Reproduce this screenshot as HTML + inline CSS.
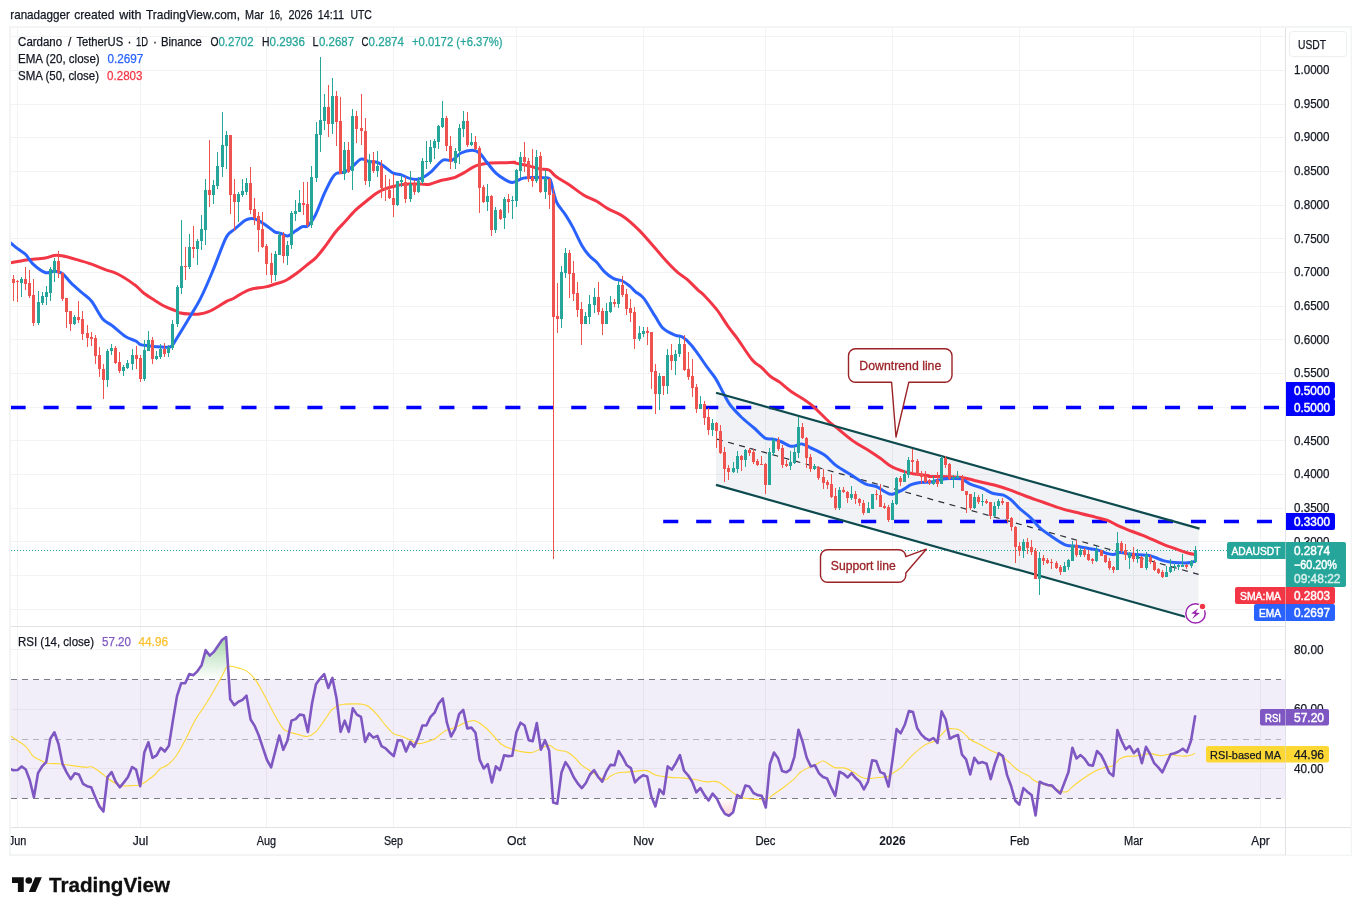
<!DOCTYPE html>
<html><head><meta charset="utf-8"><title>ADAUSDT chart</title>
<style>html,body{margin:0;padding:0;background:#fff;}body{width:1361px;height:915px;overflow:hidden;font-family:"Liberation Sans", sans-serif;}</style>
</head><body>
<svg width="1361" height="915" viewBox="0 0 1361 915" style="display:block;will-change:transform;font-family:'Liberation Sans',sans-serif">
<rect width="1361" height="915" fill="#ffffff"/>
<rect x="10" y="27" width="1341" height="828" fill="#ffffff" stroke="#f3f4f4" stroke-width="2"/>
<g stroke="#f2f3f3" stroke-width="1" shape-rendering="crispEdges">
<line x1="11" x2="1285" y1="36.5" y2="36.5"/>
<line x1="11" x2="1285" y1="70.5" y2="70.5"/>
<line x1="11" x2="1285" y1="104.5" y2="104.5"/>
<line x1="11" x2="1285" y1="137.5" y2="137.5"/>
<line x1="11" x2="1285" y1="171.5" y2="171.5"/>
<line x1="11" x2="1285" y1="205.5" y2="205.5"/>
<line x1="11" x2="1285" y1="238.5" y2="238.5"/>
<line x1="11" x2="1285" y1="272.5" y2="272.5"/>
<line x1="11" x2="1285" y1="306.5" y2="306.5"/>
<line x1="11" x2="1285" y1="339.5" y2="339.5"/>
<line x1="11" x2="1285" y1="373.5" y2="373.5"/>
<line x1="11" x2="1285" y1="407.5" y2="407.5"/>
<line x1="11" x2="1285" y1="440.5" y2="440.5"/>
<line x1="11" x2="1285" y1="474.5" y2="474.5"/>
<line x1="11" x2="1285" y1="508.5" y2="508.5"/>
<line x1="11" x2="1285" y1="541.5" y2="541.5"/>
<line x1="11" x2="1285" y1="575.5" y2="575.5"/>
<line x1="11" x2="1285" y1="609.5" y2="609.5"/>
<line x1="11" x2="1285" y1="649.5" y2="649.5"/>
<line x1="11" x2="1285" y1="709.5" y2="709.5"/>
<line x1="11" x2="1285" y1="768.5" y2="768.5"/>
<line x1="17.5" x2="17.5" y1="28" y2="827"/>
<line x1="140.5" x2="140.5" y1="28" y2="827"/>
<line x1="266.5" x2="266.5" y1="28" y2="827"/>
<line x1="393.5" x2="393.5" y1="28" y2="827"/>
<line x1="516.5" x2="516.5" y1="28" y2="827"/>
<line x1="643.5" x2="643.5" y1="28" y2="827"/>
<line x1="765.5" x2="765.5" y1="28" y2="827"/>
<line x1="892.5" x2="892.5" y1="28" y2="827"/>
<line x1="1019.5" x2="1019.5" y1="28" y2="827"/>
<line x1="1133.5" x2="1133.5" y1="28" y2="827"/>
<line x1="1260.5" x2="1260.5" y1="28" y2="827"/>
</g>
<defs><clipPath id="plot"><rect x="11" y="28" width="1274.5" height="799"/></clipPath></defs>
<g clip-path="url(#plot)">
<rect x="11" y="679.5" width="1274" height="119.0" fill="#7e57c2" fill-opacity="0.1"/>
<polygon points="716,392.7 1198.6,528.3 1198.6,620.5 716,484.9" fill="#697d9b" fill-opacity="0.1"/>
<line x1="10.54" x2="1285" y1="407.5" y2="407.5" stroke="#0000ff" stroke-width="3.4" stroke-dasharray="15.1 17.883" />
<line x1="663.2" x2="1285" y1="521.5" y2="521.5" stroke="#0000ff" stroke-width="3.4" stroke-dasharray="15.1 17.883"/>
<line x1="11" x2="1285" y1="550.5" y2="550.5" stroke="#26a69a" stroke-width="1" stroke-dasharray="1 2" shape-rendering="crispEdges"/>
<line x1="717" y1="439.1" x2="1198.6" y2="574.4" stroke="#2a2e39" stroke-width="1.2" stroke-dasharray="6 5.5"/>
<path d="M10.4 262.9 C13.1 262.4 20.8 260.7 26.6 259.9 C32.4 259.1 40.5 258.8 45.2 258.0 C49.8 257.3 51.7 255.8 54.4 255.4 C57.2 255.0 58.5 255.2 61.9 255.8 C65.3 256.4 69.9 257.7 74.9 259.1 C79.8 260.5 86.7 262.4 91.6 264.2 C96.6 265.9 100.3 267.7 104.6 269.4 C108.9 271.0 112.7 271.5 117.6 274.0 C122.6 276.5 130.0 281.4 134.3 284.6 C138.7 287.7 140.2 290.3 143.6 293.0 C147.0 295.6 151.1 298.1 154.8 300.4 C158.5 302.7 162.3 305.1 165.9 306.9 C169.6 308.7 174.5 310.2 176.7 311.2 C178.9 312.1 176.9 312.2 179.2 312.7 C181.4 313.2 186.8 313.9 190.2 314.1 C193.6 314.4 196.3 314.5 199.4 314.1 C202.5 313.7 205.5 313.0 208.6 311.7 C211.6 310.5 214.7 308.6 217.8 306.8 C220.8 305.0 224.3 302.5 226.9 301.1 C229.5 299.7 230.6 300.0 233.4 298.5 C236.1 297.1 240.3 294.1 243.5 292.5 C246.7 290.8 249.0 289.7 252.7 288.8 C256.3 287.9 261.8 287.7 265.5 286.9 C269.2 286.2 271.3 285.3 274.7 284.2 C278.1 283.1 282.0 282.4 285.7 280.5 C289.4 278.7 293.4 275.6 296.7 273.2 C300.1 270.7 302.7 268.4 305.9 265.8 C309.1 263.2 312.7 261.0 316.0 257.6 C319.4 254.1 322.9 249.3 326.1 245.1 C329.3 240.9 332.3 236.1 335.3 232.3 C338.4 228.4 341.1 225.8 344.5 222.2 C347.9 218.5 351.9 213.7 355.5 210.2 C359.2 206.7 363.2 203.8 366.5 201.0 C369.9 198.3 373.0 195.6 375.7 193.7 C378.5 191.8 380.6 190.7 383.1 189.6 C385.5 188.6 387.7 188.0 390.4 187.3 C393.2 186.5 396.5 185.4 399.6 184.9 C402.7 184.3 405.4 184.3 408.8 184.1 C412.2 184.0 416.5 184.1 420.0 184.1 C423.5 184.1 426.3 184.8 429.8 184.2 C433.3 183.6 436.9 181.6 440.8 180.5 C444.8 179.5 449.7 179.1 453.7 177.8 C457.7 176.4 461.0 174.2 464.7 172.3 C468.4 170.3 471.4 167.4 475.7 165.8 C480.0 164.3 485.5 163.6 490.4 163.1 C495.3 162.6 501.1 162.9 505.1 162.7 C509.1 162.6 512.5 162.1 514.3 162.2 C516.1 162.2 513.2 162.4 515.9 163.1 C518.6 163.8 526.6 165.4 530.6 166.4 C534.6 167.3 536.7 168.3 539.8 168.9 C542.9 169.6 546.2 168.7 549.0 170.0 C551.7 171.4 553.0 174.4 556.3 176.8 C559.7 179.3 564.6 181.7 569.2 184.7 C573.8 187.8 579.3 192.5 583.9 195.2 C588.5 198.0 592.8 199.0 596.7 201.3 C600.7 203.5 603.5 206.2 607.8 208.6 C612.1 211.1 617.3 212.4 622.5 216.0 C627.7 219.5 633.8 225.0 639.0 230.1 C644.2 235.2 649.1 241.4 653.7 246.6 C658.3 251.8 662.6 257.1 666.5 261.3 C670.5 265.6 674.2 269.4 677.6 272.4 C680.9 275.3 683.4 276.2 686.8 279.2 C690.1 282.1 694.8 287.0 697.8 289.8 C700.7 292.6 701.2 292.3 704.5 295.7 C707.8 299.2 713.4 305.2 717.4 310.4 C721.3 315.6 725.0 322.2 728.4 326.9 C731.8 331.7 733.6 333.4 737.6 338.9 C741.5 344.4 748.3 355.3 752.3 360.0 C756.2 364.8 758.4 364.6 761.4 367.4 C764.5 370.1 767.5 374.0 770.6 376.5 C773.7 379.0 776.5 379.9 780.0 382.4 C783.5 385.0 786.8 388.4 791.8 391.9 C796.9 395.5 804.1 399.0 810.2 403.9 C816.3 408.8 824.0 417.2 828.6 421.3 C833.2 425.5 833.8 425.5 837.8 428.7 C841.7 431.9 847.3 436.9 852.5 440.6 C857.7 444.3 864.4 447.8 869.0 450.7 C873.6 453.6 876.3 455.5 880.0 458.1 C883.7 460.7 887.4 464.2 891.0 466.3 C894.7 468.5 898.4 469.7 902.1 470.9 C905.7 472.2 908.8 472.9 913.1 473.7 C917.4 474.4 925.0 475.1 927.8 475.5 C930.6 476.0 926.6 476.2 930.0 476.4 C933.4 476.6 942.9 476.5 948.4 476.7 C953.9 477.0 958.2 476.9 963.1 477.7 C968.0 478.4 972.6 480.1 977.8 481.3 C983.0 482.6 989.1 483.6 994.3 485.0 C999.5 486.4 1003.8 487.8 1009.0 489.6 C1014.2 491.4 1019.7 493.9 1025.5 496.0 C1031.3 498.2 1037.8 500.3 1043.9 502.5 C1050.0 504.6 1056.1 507.0 1062.3 508.9 C1068.4 510.7 1075.1 512.1 1080.6 513.5 C1086.1 514.9 1090.8 516.0 1095.3 517.1 C1099.8 518.3 1103.6 518.9 1107.6 520.4 C1111.6 521.9 1115.0 524.4 1119.1 526.2 C1123.2 528.1 1127.8 529.7 1132.3 531.5 C1136.8 533.3 1142.3 535.1 1146.4 536.8 C1150.5 538.5 1153.9 540.2 1157.0 541.6 C1160.1 543.0 1162.2 544.0 1165.0 545.1 C1167.8 546.2 1170.9 547.2 1173.8 548.2 C1176.7 549.2 1180.0 550.4 1182.6 551.3 C1185.2 552.2 1187.5 553.0 1189.6 553.5 C1191.7 554.0 1194.1 554.4 1195.0 554.6" fill="none" stroke="#f23645" stroke-width="3" stroke-linejoin="round" stroke-linecap="butt"/>
<path d="M10.4 242.8 C11.6 243.7 14.8 246.4 17.3 248.4 C19.8 250.3 23.0 251.9 25.7 254.5 C28.3 257.1 29.8 261.1 33.1 264.2 C36.3 267.2 41.6 271.3 45.2 272.5 C48.7 273.7 51.6 271.1 54.4 271.2 C57.3 271.4 59.7 271.5 62.4 273.4 C65.2 275.4 67.9 279.9 71.2 283.1 C74.5 286.4 78.9 289.9 82.3 293.0 C85.7 296.0 88.2 297.0 91.6 301.3 C95.0 305.6 99.3 314.9 102.8 319.0 C106.2 323.0 108.3 322.6 112.0 325.5 C115.8 328.3 121.0 333.6 125.0 336.2 C129.1 338.9 133.6 339.9 136.2 341.3 C138.8 342.7 138.3 343.8 140.5 344.6 C142.6 345.4 146.5 345.5 149.2 345.9 C151.9 346.3 153.8 346.6 156.6 346.8 C159.4 347.0 163.4 347.3 165.9 347.2 C168.4 347.1 169.7 347.7 171.5 346.3 C173.3 344.8 173.6 343.5 176.7 338.5 C179.8 333.5 186.3 322.9 190.2 316.3 C194.1 309.7 196.6 306.2 200.3 298.9 C204.0 291.5 208.0 282.4 212.2 272.2 C216.5 262.1 222.4 244.9 226.0 237.8 C229.7 230.6 231.1 232.4 234.3 229.5 C237.5 226.6 242.4 222.2 245.3 220.3 C248.2 218.5 249.6 218.5 251.7 218.5 C253.9 218.5 255.9 219.2 258.2 220.3 C260.5 221.4 262.8 223.0 265.5 224.9 C268.3 226.8 272.3 230.5 274.7 231.9 C277.2 233.3 278.1 232.5 280.2 233.2 C282.4 233.8 285.1 236.2 287.6 235.9 C290.0 235.6 292.5 232.9 294.9 231.3 C297.4 229.8 300.1 227.7 302.3 226.7 C304.4 225.8 305.6 227.7 307.8 225.8 C309.9 224.0 312.4 221.1 315.1 215.7 C317.9 210.4 321.5 199.8 324.3 193.7 C327.1 187.6 329.7 182.4 331.6 179.0 C333.6 175.6 334.1 174.6 336.2 173.5 C338.4 172.3 341.9 173.3 344.5 172.2 C347.1 171.1 349.1 169.2 351.9 167.0 C354.6 164.9 358.1 160.1 361.0 159.1 C363.9 158.2 366.5 161.0 369.3 161.5 C372.1 162.1 375.0 161.5 377.6 162.5 C380.2 163.4 382.3 165.3 384.9 167.0 C387.5 168.8 390.4 171.8 393.2 173.1 C395.9 174.4 398.8 174.1 401.4 174.9 C404.0 175.8 406.3 177.3 408.8 178.1 C411.2 178.8 413.9 179.4 416.1 179.4 C418.4 179.3 419.9 179.1 422.5 177.8 C425.0 176.4 428.3 174.2 431.6 171.3 C435.0 168.4 439.3 162.2 442.7 160.3 C446.0 158.5 448.8 161.5 451.9 160.3 C454.9 159.1 457.7 154.7 461.0 153.0 C464.4 151.3 469.0 150.2 472.1 150.2 C475.1 150.2 477.0 151.0 479.4 153.0 C481.9 155.0 484.0 158.8 486.8 162.2 C489.5 165.5 492.9 170.3 495.9 173.2 C499.0 176.1 502.4 178.1 505.1 179.6 C507.9 181.1 509.4 182.6 512.5 182.4 C515.5 182.1 519.6 179.0 523.3 178.1 C526.9 177.3 530.9 177.5 534.3 177.4 C537.7 177.3 540.9 177.5 543.5 177.8 C546.1 178.1 548.2 176.8 549.9 179.2 C551.6 181.7 552.4 188.4 553.6 192.5 C554.8 196.5 555.3 199.7 557.3 203.5 C559.2 207.2 562.9 210.9 565.5 214.9 C568.1 218.8 570.1 222.2 572.9 227.4 C575.6 232.5 579.3 241.0 582.0 245.7 C584.8 250.5 586.9 253.1 589.4 255.8 C591.8 258.6 594.3 259.7 596.7 262.3 C599.2 264.9 601.3 268.7 604.1 271.4 C606.8 274.1 610.2 276.8 613.3 278.4 C616.3 280.0 619.7 279.7 622.5 281.0 C625.2 282.3 627.7 284.4 629.8 286.1 C632.0 287.9 633.0 289.7 635.3 291.6 C637.6 293.6 640.3 294.0 643.6 298.1 C646.9 302.1 651.6 310.9 654.9 315.9 C658.2 321.0 659.8 325.2 663.2 328.4 C666.5 331.6 671.9 333.8 675.1 335.2 C678.3 336.6 679.9 335.5 682.5 337.0 C685.1 338.6 688.0 341.3 690.7 344.4 C693.5 347.5 696.2 351.6 699.0 355.4 C701.7 359.2 704.5 363.5 707.3 367.4 C710.0 371.2 712.9 374.2 715.5 378.4 C718.1 382.5 720.4 387.7 722.9 392.2 C725.3 396.6 727.2 400.9 730.2 405.0 C733.3 409.1 737.3 413.1 741.2 417.0 C745.2 420.8 750.1 424.5 754.1 428.0 C758.1 431.5 761.9 436.2 765.1 438.1 C768.4 439.9 770.9 438.6 773.5 439.1 C776.1 439.7 778.1 440.4 780.8 441.5 C783.6 442.7 787.6 445.4 790.0 446.1 C792.5 446.8 793.5 446.1 795.5 445.8 C797.5 445.4 799.5 443.6 801.9 443.9 C804.4 444.2 806.4 445.7 810.2 447.6 C814.0 449.5 820.6 452.3 824.9 455.3 C829.2 458.3 831.6 462.2 835.9 465.4 C840.2 468.6 845.7 471.5 850.6 474.6 C855.5 477.7 861.0 481.8 865.3 483.8 C869.6 485.8 873.0 485.2 876.3 486.5 C879.7 487.9 882.9 490.8 885.5 492.0 C888.1 493.3 889.2 494.6 892.0 494.3 C894.7 493.9 898.8 491.8 902.1 490.2 C905.3 488.6 908.2 486.0 911.2 484.7 C914.3 483.4 917.1 483.0 920.4 482.5 C923.8 482.0 928.0 482.4 931.4 481.9 C934.9 481.4 937.9 480.1 941.0 479.5 C944.1 478.9 946.8 478.7 950.2 478.6 C953.6 478.5 957.9 478.0 961.2 478.9 C964.6 479.9 966.7 482.5 970.4 484.1 C974.1 485.7 979.6 487.1 983.3 488.7 C986.9 490.2 989.1 492.2 992.5 493.3 C995.8 494.3 1000.4 494.0 1003.5 495.1 C1006.5 496.2 1008.1 497.4 1010.8 499.7 C1013.6 502.0 1016.6 505.8 1020.0 508.9 C1023.4 511.9 1027.7 514.9 1031.0 518.1 C1034.4 521.3 1036.5 525.0 1040.2 528.2 C1043.9 531.4 1048.8 534.5 1053.1 537.4 C1057.4 540.2 1061.9 543.6 1065.9 545.1 C1069.9 546.5 1072.9 545.6 1077.0 546.2 C1081.0 546.8 1086.4 548.0 1090.0 548.7 C1093.6 549.4 1096.1 549.7 1098.8 550.4 C1101.5 551.1 1103.5 552.4 1105.9 553.1 C1108.3 553.8 1111.1 554.5 1113.4 554.4 C1115.8 554.3 1117.3 552.7 1120.0 552.6 C1122.7 552.5 1126.5 553.6 1129.7 554.0 C1132.9 554.4 1136.3 554.6 1139.4 554.8 C1142.5 555.0 1145.6 554.8 1148.2 555.3 C1150.8 555.8 1152.8 556.6 1155.3 557.5 C1157.8 558.4 1160.6 559.8 1163.2 560.6 C1165.8 561.4 1168.4 561.8 1171.1 562.2 C1173.8 562.6 1176.8 562.7 1179.1 562.8 C1181.4 562.9 1183.3 563.0 1185.2 563.0 C1187.1 563.0 1188.9 562.8 1190.5 562.5 C1192.1 562.2 1194.2 561.4 1195.0 561.2" fill="none" stroke="#2962ff" stroke-width="3" stroke-linejoin="round" stroke-linecap="butt"/>
<line x1="716" y1="392.7" x2="1199.5" y2="528.6" stroke="#0c4a4e" stroke-width="2.2"/>
<line x1="716" y1="484.9" x2="1185.3" y2="616.8" stroke="#0c4a4e" stroke-width="2.2"/>
<g shape-rendering="crispEdges">
<rect x="10" y="257" width="1" height="23" fill="#ef5350"/>
<rect x="13" y="275" width="1" height="26" fill="#ef5350"/>
<rect x="12" y="279" width="3" height="4" fill="#ef5350"/>
<rect x="17" y="280" width="1" height="22" fill="#ef5350"/>
<rect x="16" y="281" width="3" height="1" fill="#ef5350"/>
<rect x="21" y="277" width="1" height="20" fill="#26a69a"/>
<rect x="20" y="279" width="3" height="4" fill="#26a69a"/>
<rect x="25" y="267" width="1" height="23" fill="#ef5350"/>
<rect x="24" y="279" width="3" height="5" fill="#ef5350"/>
<rect x="29" y="270" width="1" height="28" fill="#ef5350"/>
<rect x="28" y="283" width="3" height="13" fill="#ef5350"/>
<rect x="33" y="279" width="1" height="47" fill="#ef5350"/>
<rect x="32" y="295" width="3" height="28" fill="#ef5350"/>
<rect x="38" y="291" width="1" height="34" fill="#26a69a"/>
<rect x="37" y="302" width="3" height="21" fill="#26a69a"/>
<rect x="42" y="292" width="1" height="13" fill="#26a69a"/>
<rect x="41" y="296" width="3" height="7" fill="#26a69a"/>
<rect x="46" y="286" width="1" height="19" fill="#26a69a"/>
<rect x="45" y="292" width="3" height="5" fill="#26a69a"/>
<rect x="50" y="267" width="1" height="34" fill="#26a69a"/>
<rect x="49" y="269" width="3" height="24" fill="#26a69a"/>
<rect x="54" y="258" width="1" height="24" fill="#26a69a"/>
<rect x="53" y="261" width="3" height="12" fill="#26a69a"/>
<rect x="58" y="251" width="1" height="27" fill="#ef5350"/>
<rect x="57" y="261" width="3" height="12" fill="#ef5350"/>
<rect x="62" y="272" width="1" height="29" fill="#ef5350"/>
<rect x="61" y="273" width="3" height="26" fill="#ef5350"/>
<rect x="66" y="298" width="1" height="30" fill="#ef5350"/>
<rect x="65" y="298" width="3" height="14" fill="#ef5350"/>
<rect x="70" y="311" width="1" height="20" fill="#ef5350"/>
<rect x="69" y="311" width="3" height="13" fill="#ef5350"/>
<rect x="74" y="315" width="1" height="10" fill="#26a69a"/>
<rect x="73" y="317" width="3" height="7" fill="#26a69a"/>
<rect x="78" y="301" width="1" height="22" fill="#ef5350"/>
<rect x="77" y="317" width="3" height="3" fill="#ef5350"/>
<rect x="82" y="311" width="1" height="29" fill="#ef5350"/>
<rect x="81" y="319" width="3" height="15" fill="#ef5350"/>
<rect x="87" y="325" width="1" height="22" fill="#ef5350"/>
<rect x="86" y="333" width="3" height="5" fill="#ef5350"/>
<rect x="91" y="332" width="1" height="14" fill="#ef5350"/>
<rect x="90" y="337" width="3" height="2" fill="#ef5350"/>
<rect x="95" y="335" width="1" height="29" fill="#ef5350"/>
<rect x="94" y="338" width="3" height="18" fill="#ef5350"/>
<rect x="99" y="347" width="1" height="30" fill="#ef5350"/>
<rect x="98" y="355" width="3" height="14" fill="#ef5350"/>
<rect x="103" y="364" width="1" height="35" fill="#ef5350"/>
<rect x="102" y="369" width="3" height="11" fill="#ef5350"/>
<rect x="107" y="349" width="1" height="38" fill="#26a69a"/>
<rect x="106" y="351" width="3" height="29" fill="#26a69a"/>
<rect x="111" y="344" width="1" height="11" fill="#26a69a"/>
<rect x="110" y="348" width="3" height="3" fill="#26a69a"/>
<rect x="115" y="346" width="1" height="18" fill="#ef5350"/>
<rect x="114" y="348" width="3" height="15" fill="#ef5350"/>
<rect x="119" y="352" width="1" height="21" fill="#ef5350"/>
<rect x="118" y="362" width="3" height="9" fill="#ef5350"/>
<rect x="123" y="365" width="1" height="11" fill="#26a69a"/>
<rect x="122" y="367" width="3" height="4" fill="#26a69a"/>
<rect x="127" y="360" width="1" height="9" fill="#26a69a"/>
<rect x="126" y="363" width="3" height="5" fill="#26a69a"/>
<rect x="132" y="349" width="1" height="21" fill="#26a69a"/>
<rect x="131" y="355" width="3" height="9" fill="#26a69a"/>
<rect x="136" y="346" width="1" height="23" fill="#ef5350"/>
<rect x="135" y="355" width="3" height="4" fill="#ef5350"/>
<rect x="140" y="355" width="1" height="27" fill="#ef5350"/>
<rect x="139" y="358" width="3" height="21" fill="#ef5350"/>
<rect x="144" y="340" width="1" height="41" fill="#26a69a"/>
<rect x="143" y="350" width="3" height="29" fill="#26a69a"/>
<rect x="148" y="331" width="1" height="20" fill="#26a69a"/>
<rect x="147" y="340" width="3" height="11" fill="#26a69a"/>
<rect x="152" y="337" width="1" height="27" fill="#ef5350"/>
<rect x="151" y="340" width="3" height="19" fill="#ef5350"/>
<rect x="156" y="351" width="1" height="9" fill="#26a69a"/>
<rect x="155" y="356" width="3" height="3" fill="#26a69a"/>
<rect x="160" y="344" width="1" height="15" fill="#26a69a"/>
<rect x="159" y="349" width="3" height="8" fill="#26a69a"/>
<rect x="164" y="343" width="1" height="14" fill="#ef5350"/>
<rect x="163" y="349" width="3" height="5" fill="#ef5350"/>
<rect x="168" y="345" width="1" height="12" fill="#26a69a"/>
<rect x="167" y="347" width="3" height="6" fill="#26a69a"/>
<rect x="172" y="320" width="1" height="30" fill="#26a69a"/>
<rect x="171" y="324" width="3" height="24" fill="#26a69a"/>
<rect x="177" y="285" width="1" height="42" fill="#26a69a"/>
<rect x="176" y="287" width="3" height="37" fill="#26a69a"/>
<rect x="181" y="220" width="1" height="74" fill="#26a69a"/>
<rect x="180" y="266" width="3" height="22" fill="#26a69a"/>
<rect x="185" y="247" width="1" height="33" fill="#ef5350"/>
<rect x="184" y="266" width="3" height="1" fill="#ef5350"/>
<rect x="189" y="234" width="1" height="35" fill="#26a69a"/>
<rect x="188" y="247" width="3" height="20" fill="#26a69a"/>
<rect x="193" y="226" width="1" height="32" fill="#ef5350"/>
<rect x="192" y="247" width="3" height="2" fill="#ef5350"/>
<rect x="197" y="239" width="1" height="26" fill="#26a69a"/>
<rect x="196" y="241" width="3" height="8" fill="#26a69a"/>
<rect x="201" y="215" width="1" height="35" fill="#26a69a"/>
<rect x="200" y="229" width="3" height="12" fill="#26a69a"/>
<rect x="205" y="179" width="1" height="66" fill="#26a69a"/>
<rect x="204" y="190" width="3" height="40" fill="#26a69a"/>
<rect x="209" y="140" width="1" height="67" fill="#ef5350"/>
<rect x="208" y="190" width="3" height="5" fill="#ef5350"/>
<rect x="213" y="180" width="1" height="24" fill="#26a69a"/>
<rect x="212" y="185" width="3" height="10" fill="#26a69a"/>
<rect x="217" y="152" width="1" height="37" fill="#26a69a"/>
<rect x="216" y="166" width="3" height="20" fill="#26a69a"/>
<rect x="222" y="112" width="1" height="65" fill="#26a69a"/>
<rect x="221" y="145" width="3" height="22" fill="#26a69a"/>
<rect x="226" y="131" width="1" height="38" fill="#26a69a"/>
<rect x="225" y="135" width="3" height="11" fill="#26a69a"/>
<rect x="230" y="135" width="1" height="79" fill="#ef5350"/>
<rect x="229" y="135" width="3" height="60" fill="#ef5350"/>
<rect x="234" y="179" width="1" height="52" fill="#ef5350"/>
<rect x="233" y="194" width="3" height="8" fill="#ef5350"/>
<rect x="238" y="192" width="1" height="30" fill="#26a69a"/>
<rect x="237" y="194" width="3" height="8" fill="#26a69a"/>
<rect x="242" y="179" width="1" height="18" fill="#26a69a"/>
<rect x="241" y="191" width="3" height="4" fill="#26a69a"/>
<rect x="246" y="178" width="1" height="17" fill="#26a69a"/>
<rect x="245" y="183" width="3" height="9" fill="#26a69a"/>
<rect x="250" y="167" width="1" height="47" fill="#ef5350"/>
<rect x="249" y="183" width="3" height="27" fill="#ef5350"/>
<rect x="254" y="198" width="1" height="27" fill="#ef5350"/>
<rect x="253" y="209" width="3" height="9" fill="#ef5350"/>
<rect x="258" y="212" width="1" height="40" fill="#ef5350"/>
<rect x="257" y="216" width="3" height="14" fill="#ef5350"/>
<rect x="262" y="212" width="1" height="36" fill="#ef5350"/>
<rect x="261" y="229" width="3" height="18" fill="#ef5350"/>
<rect x="266" y="244" width="1" height="31" fill="#ef5350"/>
<rect x="265" y="246" width="3" height="18" fill="#ef5350"/>
<rect x="271" y="253" width="1" height="30" fill="#ef5350"/>
<rect x="270" y="263" width="3" height="12" fill="#ef5350"/>
<rect x="275" y="251" width="1" height="30" fill="#26a69a"/>
<rect x="274" y="254" width="3" height="21" fill="#26a69a"/>
<rect x="279" y="232" width="1" height="23" fill="#26a69a"/>
<rect x="278" y="235" width="3" height="20" fill="#26a69a"/>
<rect x="283" y="232" width="1" height="31" fill="#ef5350"/>
<rect x="282" y="235" width="3" height="21" fill="#ef5350"/>
<rect x="287" y="241" width="1" height="24" fill="#26a69a"/>
<rect x="286" y="245" width="3" height="11" fill="#26a69a"/>
<rect x="291" y="211" width="1" height="38" fill="#26a69a"/>
<rect x="290" y="213" width="3" height="32" fill="#26a69a"/>
<rect x="295" y="200" width="1" height="21" fill="#26a69a"/>
<rect x="294" y="211" width="3" height="3" fill="#26a69a"/>
<rect x="299" y="190" width="1" height="22" fill="#26a69a"/>
<rect x="298" y="203" width="3" height="9" fill="#26a69a"/>
<rect x="303" y="182" width="1" height="33" fill="#ef5350"/>
<rect x="302" y="203" width="3" height="2" fill="#ef5350"/>
<rect x="307" y="182" width="1" height="45" fill="#ef5350"/>
<rect x="306" y="204" width="3" height="21" fill="#ef5350"/>
<rect x="311" y="166" width="1" height="62" fill="#26a69a"/>
<rect x="310" y="177" width="3" height="48" fill="#26a69a"/>
<rect x="316" y="122" width="1" height="60" fill="#26a69a"/>
<rect x="315" y="134" width="3" height="44" fill="#26a69a"/>
<rect x="320" y="57" width="1" height="95" fill="#26a69a"/>
<rect x="319" y="120" width="3" height="15" fill="#26a69a"/>
<rect x="324" y="94" width="1" height="36" fill="#26a69a"/>
<rect x="323" y="107" width="3" height="14" fill="#26a69a"/>
<rect x="328" y="85" width="1" height="52" fill="#ef5350"/>
<rect x="327" y="107" width="3" height="17" fill="#ef5350"/>
<rect x="332" y="78" width="1" height="56" fill="#26a69a"/>
<rect x="331" y="96" width="3" height="28" fill="#26a69a"/>
<rect x="336" y="91" width="1" height="55" fill="#ef5350"/>
<rect x="335" y="96" width="3" height="26" fill="#ef5350"/>
<rect x="340" y="97" width="1" height="77" fill="#ef5350"/>
<rect x="339" y="121" width="3" height="53" fill="#ef5350"/>
<rect x="344" y="142" width="1" height="38" fill="#26a69a"/>
<rect x="343" y="150" width="3" height="24" fill="#26a69a"/>
<rect x="348" y="142" width="1" height="31" fill="#ef5350"/>
<rect x="347" y="150" width="3" height="22" fill="#ef5350"/>
<rect x="352" y="109" width="1" height="81" fill="#26a69a"/>
<rect x="351" y="116" width="3" height="55" fill="#26a69a"/>
<rect x="356" y="111" width="1" height="32" fill="#ef5350"/>
<rect x="355" y="116" width="3" height="13" fill="#ef5350"/>
<rect x="361" y="94" width="1" height="51" fill="#ef5350"/>
<rect x="360" y="128" width="3" height="3" fill="#ef5350"/>
<rect x="365" y="118" width="1" height="67" fill="#ef5350"/>
<rect x="364" y="131" width="3" height="50" fill="#ef5350"/>
<rect x="369" y="154" width="1" height="33" fill="#26a69a"/>
<rect x="368" y="160" width="3" height="21" fill="#26a69a"/>
<rect x="373" y="152" width="1" height="21" fill="#ef5350"/>
<rect x="372" y="160" width="3" height="11" fill="#ef5350"/>
<rect x="377" y="151" width="1" height="26" fill="#26a69a"/>
<rect x="376" y="166" width="3" height="5" fill="#26a69a"/>
<rect x="381" y="160" width="1" height="38" fill="#ef5350"/>
<rect x="380" y="166" width="3" height="22" fill="#ef5350"/>
<rect x="385" y="175" width="1" height="26" fill="#ef5350"/>
<rect x="384" y="188" width="3" height="2" fill="#ef5350"/>
<rect x="389" y="179" width="1" height="20" fill="#ef5350"/>
<rect x="388" y="190" width="3" height="8" fill="#ef5350"/>
<rect x="393" y="174" width="1" height="43" fill="#ef5350"/>
<rect x="392" y="198" width="3" height="7" fill="#ef5350"/>
<rect x="397" y="181" width="1" height="25" fill="#26a69a"/>
<rect x="396" y="181" width="3" height="24" fill="#26a69a"/>
<rect x="401" y="175" width="1" height="12" fill="#26a69a"/>
<rect x="400" y="180" width="3" height="2" fill="#26a69a"/>
<rect x="405" y="177" width="1" height="26" fill="#ef5350"/>
<rect x="404" y="182" width="3" height="17" fill="#ef5350"/>
<rect x="410" y="171" width="1" height="31" fill="#26a69a"/>
<rect x="409" y="184" width="3" height="15" fill="#26a69a"/>
<rect x="414" y="180" width="1" height="15" fill="#ef5350"/>
<rect x="413" y="184" width="3" height="8" fill="#ef5350"/>
<rect x="418" y="177" width="1" height="16" fill="#26a69a"/>
<rect x="417" y="181" width="3" height="11" fill="#26a69a"/>
<rect x="422" y="158" width="1" height="26" fill="#26a69a"/>
<rect x="421" y="161" width="3" height="21" fill="#26a69a"/>
<rect x="426" y="141" width="1" height="28" fill="#26a69a"/>
<rect x="425" y="161" width="3" height="1" fill="#26a69a"/>
<rect x="430" y="140" width="1" height="24" fill="#26a69a"/>
<rect x="429" y="147" width="3" height="15" fill="#26a69a"/>
<rect x="434" y="139" width="1" height="20" fill="#26a69a"/>
<rect x="433" y="141" width="3" height="7" fill="#26a69a"/>
<rect x="438" y="125" width="1" height="24" fill="#26a69a"/>
<rect x="437" y="126" width="3" height="16" fill="#26a69a"/>
<rect x="442" y="101" width="1" height="27" fill="#26a69a"/>
<rect x="441" y="118" width="3" height="9" fill="#26a69a"/>
<rect x="446" y="116" width="1" height="35" fill="#ef5350"/>
<rect x="445" y="118" width="3" height="28" fill="#ef5350"/>
<rect x="450" y="136" width="1" height="33" fill="#ef5350"/>
<rect x="449" y="146" width="3" height="16" fill="#ef5350"/>
<rect x="455" y="148" width="1" height="21" fill="#26a69a"/>
<rect x="454" y="151" width="3" height="12" fill="#26a69a"/>
<rect x="459" y="124" width="1" height="40" fill="#26a69a"/>
<rect x="458" y="128" width="3" height="23" fill="#26a69a"/>
<rect x="463" y="111" width="1" height="26" fill="#26a69a"/>
<rect x="462" y="121" width="3" height="8" fill="#26a69a"/>
<rect x="467" y="112" width="1" height="35" fill="#ef5350"/>
<rect x="466" y="121" width="3" height="24" fill="#ef5350"/>
<rect x="471" y="133" width="1" height="13" fill="#26a69a"/>
<rect x="470" y="142" width="3" height="3" fill="#26a69a"/>
<rect x="475" y="136" width="1" height="14" fill="#ef5350"/>
<rect x="474" y="142" width="3" height="7" fill="#ef5350"/>
<rect x="479" y="146" width="1" height="67" fill="#ef5350"/>
<rect x="478" y="148" width="3" height="40" fill="#ef5350"/>
<rect x="483" y="185" width="1" height="18" fill="#ef5350"/>
<rect x="482" y="187" width="3" height="15" fill="#ef5350"/>
<rect x="487" y="184" width="1" height="27" fill="#26a69a"/>
<rect x="486" y="196" width="3" height="6" fill="#26a69a"/>
<rect x="491" y="195" width="1" height="41" fill="#ef5350"/>
<rect x="490" y="196" width="3" height="34" fill="#ef5350"/>
<rect x="495" y="207" width="1" height="26" fill="#26a69a"/>
<rect x="494" y="210" width="3" height="20" fill="#26a69a"/>
<rect x="500" y="209" width="1" height="11" fill="#ef5350"/>
<rect x="499" y="210" width="3" height="9" fill="#ef5350"/>
<rect x="504" y="197" width="1" height="32" fill="#26a69a"/>
<rect x="503" y="199" width="3" height="19" fill="#26a69a"/>
<rect x="508" y="194" width="1" height="19" fill="#ef5350"/>
<rect x="507" y="199" width="3" height="3" fill="#ef5350"/>
<rect x="512" y="196" width="1" height="23" fill="#26a69a"/>
<rect x="511" y="200" width="3" height="1" fill="#26a69a"/>
<rect x="516" y="169" width="1" height="38" fill="#26a69a"/>
<rect x="515" y="170" width="3" height="31" fill="#26a69a"/>
<rect x="520" y="152" width="1" height="26" fill="#26a69a"/>
<rect x="519" y="157" width="3" height="14" fill="#26a69a"/>
<rect x="524" y="142" width="1" height="30" fill="#ef5350"/>
<rect x="523" y="157" width="3" height="5" fill="#ef5350"/>
<rect x="528" y="158" width="1" height="24" fill="#ef5350"/>
<rect x="527" y="161" width="3" height="18" fill="#ef5350"/>
<rect x="532" y="149" width="1" height="38" fill="#ef5350"/>
<rect x="531" y="177" width="3" height="4" fill="#ef5350"/>
<rect x="536" y="150" width="1" height="33" fill="#26a69a"/>
<rect x="535" y="157" width="3" height="24" fill="#26a69a"/>
<rect x="540" y="152" width="1" height="41" fill="#ef5350"/>
<rect x="539" y="156" width="3" height="36" fill="#ef5350"/>
<rect x="545" y="170" width="1" height="29" fill="#26a69a"/>
<rect x="544" y="178" width="3" height="14" fill="#26a69a"/>
<rect x="549" y="178" width="1" height="31" fill="#ef5350"/>
<rect x="548" y="179" width="3" height="16" fill="#ef5350"/>
<rect x="553" y="188" width="1" height="371" fill="#ef5350"/>
<rect x="552" y="194" width="3" height="123" fill="#ef5350"/>
<rect x="557" y="283" width="1" height="50" fill="#ef5350"/>
<rect x="556" y="316" width="3" height="3" fill="#ef5350"/>
<rect x="561" y="266" width="1" height="62" fill="#26a69a"/>
<rect x="560" y="272" width="3" height="47" fill="#26a69a"/>
<rect x="565" y="248" width="1" height="30" fill="#26a69a"/>
<rect x="564" y="253" width="3" height="20" fill="#26a69a"/>
<rect x="569" y="250" width="1" height="48" fill="#ef5350"/>
<rect x="568" y="253" width="3" height="21" fill="#ef5350"/>
<rect x="573" y="261" width="1" height="40" fill="#ef5350"/>
<rect x="572" y="273" width="3" height="21" fill="#ef5350"/>
<rect x="577" y="282" width="1" height="35" fill="#ef5350"/>
<rect x="576" y="293" width="3" height="17" fill="#ef5350"/>
<rect x="581" y="302" width="1" height="43" fill="#ef5350"/>
<rect x="580" y="309" width="3" height="15" fill="#ef5350"/>
<rect x="585" y="312" width="1" height="12" fill="#26a69a"/>
<rect x="584" y="316" width="3" height="8" fill="#26a69a"/>
<rect x="589" y="295" width="1" height="29" fill="#26a69a"/>
<rect x="588" y="304" width="3" height="13" fill="#26a69a"/>
<rect x="594" y="288" width="1" height="25" fill="#26a69a"/>
<rect x="593" y="297" width="3" height="8" fill="#26a69a"/>
<rect x="598" y="282" width="1" height="33" fill="#ef5350"/>
<rect x="597" y="297" width="3" height="15" fill="#ef5350"/>
<rect x="602" y="308" width="1" height="27" fill="#ef5350"/>
<rect x="601" y="311" width="3" height="13" fill="#ef5350"/>
<rect x="606" y="303" width="1" height="21" fill="#26a69a"/>
<rect x="605" y="311" width="3" height="13" fill="#26a69a"/>
<rect x="610" y="296" width="1" height="17" fill="#26a69a"/>
<rect x="609" y="302" width="3" height="10" fill="#26a69a"/>
<rect x="614" y="299" width="1" height="8" fill="#ef5350"/>
<rect x="613" y="302" width="3" height="2" fill="#ef5350"/>
<rect x="618" y="281" width="1" height="27" fill="#26a69a"/>
<rect x="617" y="285" width="3" height="19" fill="#26a69a"/>
<rect x="622" y="276" width="1" height="21" fill="#ef5350"/>
<rect x="621" y="285" width="3" height="10" fill="#ef5350"/>
<rect x="626" y="289" width="1" height="26" fill="#ef5350"/>
<rect x="625" y="294" width="3" height="15" fill="#ef5350"/>
<rect x="630" y="299" width="1" height="23" fill="#ef5350"/>
<rect x="629" y="308" width="3" height="5" fill="#ef5350"/>
<rect x="634" y="307" width="1" height="42" fill="#ef5350"/>
<rect x="633" y="312" width="3" height="27" fill="#ef5350"/>
<rect x="639" y="326" width="1" height="15" fill="#26a69a"/>
<rect x="638" y="333" width="3" height="6" fill="#26a69a"/>
<rect x="643" y="327" width="1" height="10" fill="#26a69a"/>
<rect x="642" y="331" width="3" height="3" fill="#26a69a"/>
<rect x="647" y="327" width="1" height="18" fill="#ef5350"/>
<rect x="646" y="331" width="3" height="2" fill="#ef5350"/>
<rect x="651" y="332" width="1" height="57" fill="#ef5350"/>
<rect x="650" y="332" width="3" height="40" fill="#ef5350"/>
<rect x="655" y="364" width="1" height="50" fill="#ef5350"/>
<rect x="654" y="371" width="3" height="23" fill="#ef5350"/>
<rect x="659" y="373" width="1" height="37" fill="#26a69a"/>
<rect x="658" y="376" width="3" height="18" fill="#26a69a"/>
<rect x="663" y="376" width="1" height="19" fill="#ef5350"/>
<rect x="662" y="376" width="3" height="10" fill="#ef5350"/>
<rect x="667" y="349" width="1" height="45" fill="#26a69a"/>
<rect x="666" y="355" width="3" height="31" fill="#26a69a"/>
<rect x="671" y="344" width="1" height="26" fill="#ef5350"/>
<rect x="670" y="355" width="3" height="6" fill="#ef5350"/>
<rect x="675" y="350" width="1" height="25" fill="#26a69a"/>
<rect x="674" y="354" width="3" height="7" fill="#26a69a"/>
<rect x="679" y="337" width="1" height="20" fill="#26a69a"/>
<rect x="678" y="344" width="3" height="10" fill="#26a69a"/>
<rect x="684" y="335" width="1" height="36" fill="#ef5350"/>
<rect x="683" y="344" width="3" height="26" fill="#ef5350"/>
<rect x="688" y="352" width="1" height="28" fill="#ef5350"/>
<rect x="687" y="369" width="3" height="8" fill="#ef5350"/>
<rect x="692" y="359" width="1" height="38" fill="#ef5350"/>
<rect x="691" y="376" width="3" height="12" fill="#ef5350"/>
<rect x="696" y="384" width="1" height="29" fill="#ef5350"/>
<rect x="695" y="387" width="3" height="22" fill="#ef5350"/>
<rect x="700" y="396" width="1" height="13" fill="#26a69a"/>
<rect x="699" y="404" width="3" height="5" fill="#26a69a"/>
<rect x="704" y="401" width="1" height="24" fill="#ef5350"/>
<rect x="703" y="404" width="3" height="14" fill="#ef5350"/>
<rect x="708" y="408" width="1" height="27" fill="#ef5350"/>
<rect x="707" y="417" width="3" height="13" fill="#ef5350"/>
<rect x="712" y="419" width="1" height="17" fill="#26a69a"/>
<rect x="711" y="423" width="3" height="7" fill="#26a69a"/>
<rect x="716" y="422" width="1" height="26" fill="#ef5350"/>
<rect x="715" y="423" width="3" height="8" fill="#ef5350"/>
<rect x="720" y="425" width="1" height="29" fill="#ef5350"/>
<rect x="719" y="431" width="3" height="22" fill="#ef5350"/>
<rect x="724" y="447" width="1" height="35" fill="#ef5350"/>
<rect x="723" y="452" width="3" height="17" fill="#ef5350"/>
<rect x="728" y="465" width="1" height="15" fill="#ef5350"/>
<rect x="727" y="468" width="3" height="4" fill="#ef5350"/>
<rect x="733" y="462" width="1" height="11" fill="#26a69a"/>
<rect x="732" y="468" width="3" height="4" fill="#26a69a"/>
<rect x="737" y="451" width="1" height="22" fill="#26a69a"/>
<rect x="736" y="456" width="3" height="13" fill="#26a69a"/>
<rect x="741" y="455" width="1" height="16" fill="#ef5350"/>
<rect x="740" y="456" width="3" height="4" fill="#ef5350"/>
<rect x="745" y="449" width="1" height="18" fill="#26a69a"/>
<rect x="744" y="450" width="3" height="10" fill="#26a69a"/>
<rect x="749" y="448" width="1" height="8" fill="#ef5350"/>
<rect x="748" y="450" width="3" height="3" fill="#ef5350"/>
<rect x="753" y="449" width="1" height="15" fill="#ef5350"/>
<rect x="752" y="452" width="3" height="10" fill="#ef5350"/>
<rect x="757" y="459" width="1" height="7" fill="#ef5350"/>
<rect x="756" y="461" width="3" height="4" fill="#ef5350"/>
<rect x="761" y="456" width="1" height="9" fill="#ef5350"/>
<rect x="760" y="464" width="3" height="1" fill="#ef5350"/>
<rect x="765" y="463" width="1" height="31" fill="#ef5350"/>
<rect x="764" y="464" width="3" height="21" fill="#ef5350"/>
<rect x="769" y="448" width="1" height="37" fill="#26a69a"/>
<rect x="768" y="452" width="3" height="33" fill="#26a69a"/>
<rect x="773" y="438" width="1" height="18" fill="#26a69a"/>
<rect x="772" y="440" width="3" height="13" fill="#26a69a"/>
<rect x="778" y="437" width="1" height="14" fill="#ef5350"/>
<rect x="777" y="440" width="3" height="9" fill="#ef5350"/>
<rect x="782" y="445" width="1" height="23" fill="#ef5350"/>
<rect x="781" y="448" width="3" height="17" fill="#ef5350"/>
<rect x="786" y="460" width="1" height="7" fill="#ef5350"/>
<rect x="785" y="464" width="3" height="2" fill="#ef5350"/>
<rect x="790" y="451" width="1" height="19" fill="#26a69a"/>
<rect x="789" y="462" width="3" height="4" fill="#26a69a"/>
<rect x="794" y="446" width="1" height="18" fill="#26a69a"/>
<rect x="793" y="452" width="3" height="11" fill="#26a69a"/>
<rect x="798" y="417" width="1" height="41" fill="#26a69a"/>
<rect x="797" y="427" width="3" height="26" fill="#26a69a"/>
<rect x="802" y="423" width="1" height="16" fill="#ef5350"/>
<rect x="801" y="427" width="3" height="11" fill="#ef5350"/>
<rect x="806" y="437" width="1" height="31" fill="#ef5350"/>
<rect x="805" y="438" width="3" height="20" fill="#ef5350"/>
<rect x="810" y="454" width="1" height="18" fill="#ef5350"/>
<rect x="809" y="457" width="3" height="12" fill="#ef5350"/>
<rect x="814" y="464" width="1" height="6" fill="#26a69a"/>
<rect x="813" y="466" width="3" height="3" fill="#26a69a"/>
<rect x="818" y="466" width="1" height="14" fill="#ef5350"/>
<rect x="817" y="467" width="3" height="11" fill="#ef5350"/>
<rect x="823" y="469" width="1" height="20" fill="#ef5350"/>
<rect x="822" y="477" width="3" height="6" fill="#ef5350"/>
<rect x="827" y="480" width="1" height="9" fill="#ef5350"/>
<rect x="826" y="482" width="3" height="3" fill="#ef5350"/>
<rect x="831" y="474" width="1" height="24" fill="#ef5350"/>
<rect x="830" y="484" width="3" height="13" fill="#ef5350"/>
<rect x="835" y="488" width="1" height="22" fill="#ef5350"/>
<rect x="834" y="496" width="3" height="12" fill="#ef5350"/>
<rect x="839" y="487" width="1" height="23" fill="#26a69a"/>
<rect x="838" y="490" width="3" height="18" fill="#26a69a"/>
<rect x="843" y="487" width="1" height="6" fill="#ef5350"/>
<rect x="842" y="490" width="3" height="2" fill="#ef5350"/>
<rect x="847" y="491" width="1" height="12" fill="#ef5350"/>
<rect x="846" y="492" width="3" height="6" fill="#ef5350"/>
<rect x="851" y="486" width="1" height="14" fill="#26a69a"/>
<rect x="850" y="494" width="3" height="4" fill="#26a69a"/>
<rect x="855" y="491" width="1" height="13" fill="#ef5350"/>
<rect x="854" y="494" width="3" height="5" fill="#ef5350"/>
<rect x="859" y="498" width="1" height="8" fill="#ef5350"/>
<rect x="858" y="499" width="3" height="4" fill="#ef5350"/>
<rect x="863" y="500" width="1" height="15" fill="#ef5350"/>
<rect x="862" y="503" width="3" height="10" fill="#ef5350"/>
<rect x="868" y="502" width="1" height="11" fill="#26a69a"/>
<rect x="867" y="508" width="3" height="5" fill="#26a69a"/>
<rect x="872" y="494" width="1" height="15" fill="#26a69a"/>
<rect x="871" y="494" width="3" height="15" fill="#26a69a"/>
<rect x="876" y="490" width="1" height="10" fill="#ef5350"/>
<rect x="875" y="494" width="3" height="1" fill="#ef5350"/>
<rect x="880" y="484" width="1" height="23" fill="#ef5350"/>
<rect x="879" y="495" width="3" height="12" fill="#ef5350"/>
<rect x="884" y="503" width="1" height="6" fill="#ef5350"/>
<rect x="883" y="506" width="3" height="2" fill="#ef5350"/>
<rect x="888" y="505" width="1" height="17" fill="#ef5350"/>
<rect x="887" y="507" width="3" height="13" fill="#ef5350"/>
<rect x="892" y="500" width="1" height="20" fill="#26a69a"/>
<rect x="891" y="503" width="3" height="17" fill="#26a69a"/>
<rect x="896" y="477" width="1" height="28" fill="#26a69a"/>
<rect x="895" y="478" width="3" height="26" fill="#26a69a"/>
<rect x="900" y="476" width="1" height="10" fill="#ef5350"/>
<rect x="899" y="478" width="3" height="4" fill="#ef5350"/>
<rect x="904" y="470" width="1" height="12" fill="#26a69a"/>
<rect x="903" y="474" width="3" height="8" fill="#26a69a"/>
<rect x="908" y="457" width="1" height="21" fill="#26a69a"/>
<rect x="907" y="460" width="3" height="15" fill="#26a69a"/>
<rect x="912" y="449" width="1" height="24" fill="#ef5350"/>
<rect x="911" y="460" width="3" height="2" fill="#ef5350"/>
<rect x="917" y="459" width="1" height="17" fill="#ef5350"/>
<rect x="916" y="461" width="3" height="14" fill="#ef5350"/>
<rect x="921" y="471" width="1" height="13" fill="#ef5350"/>
<rect x="920" y="474" width="3" height="3" fill="#ef5350"/>
<rect x="925" y="471" width="1" height="12" fill="#ef5350"/>
<rect x="924" y="476" width="3" height="6" fill="#ef5350"/>
<rect x="929" y="479" width="1" height="6" fill="#ef5350"/>
<rect x="928" y="480" width="3" height="3" fill="#ef5350"/>
<rect x="933" y="476" width="1" height="9" fill="#26a69a"/>
<rect x="932" y="480" width="3" height="4" fill="#26a69a"/>
<rect x="937" y="472" width="1" height="15" fill="#ef5350"/>
<rect x="936" y="480" width="3" height="4" fill="#ef5350"/>
<rect x="941" y="456" width="1" height="28" fill="#26a69a"/>
<rect x="940" y="458" width="3" height="26" fill="#26a69a"/>
<rect x="945" y="456" width="1" height="12" fill="#ef5350"/>
<rect x="944" y="458" width="3" height="7" fill="#ef5350"/>
<rect x="949" y="463" width="1" height="17" fill="#ef5350"/>
<rect x="948" y="464" width="3" height="15" fill="#ef5350"/>
<rect x="953" y="475" width="1" height="13" fill="#26a69a"/>
<rect x="952" y="477" width="3" height="2" fill="#26a69a"/>
<rect x="957" y="471" width="1" height="8" fill="#26a69a"/>
<rect x="956" y="476" width="3" height="2" fill="#26a69a"/>
<rect x="962" y="475" width="1" height="16" fill="#ef5350"/>
<rect x="961" y="477" width="3" height="14" fill="#ef5350"/>
<rect x="966" y="491" width="1" height="22" fill="#ef5350"/>
<rect x="965" y="491" width="3" height="4" fill="#ef5350"/>
<rect x="970" y="494" width="1" height="16" fill="#ef5350"/>
<rect x="969" y="494" width="3" height="14" fill="#ef5350"/>
<rect x="974" y="492" width="1" height="17" fill="#26a69a"/>
<rect x="973" y="497" width="3" height="11" fill="#26a69a"/>
<rect x="978" y="495" width="1" height="9" fill="#ef5350"/>
<rect x="977" y="497" width="3" height="5" fill="#ef5350"/>
<rect x="982" y="494" width="1" height="12" fill="#26a69a"/>
<rect x="981" y="501" width="3" height="1" fill="#26a69a"/>
<rect x="986" y="499" width="1" height="5" fill="#ef5350"/>
<rect x="985" y="501" width="3" height="2" fill="#ef5350"/>
<rect x="990" y="502" width="1" height="17" fill="#ef5350"/>
<rect x="989" y="502" width="3" height="14" fill="#ef5350"/>
<rect x="994" y="502" width="1" height="15" fill="#26a69a"/>
<rect x="993" y="506" width="3" height="10" fill="#26a69a"/>
<rect x="998" y="499" width="1" height="10" fill="#26a69a"/>
<rect x="997" y="501" width="3" height="5" fill="#26a69a"/>
<rect x="1002" y="498" width="1" height="7" fill="#ef5350"/>
<rect x="1001" y="501" width="3" height="2" fill="#ef5350"/>
<rect x="1007" y="502" width="1" height="21" fill="#ef5350"/>
<rect x="1006" y="502" width="3" height="17" fill="#ef5350"/>
<rect x="1011" y="517" width="1" height="14" fill="#ef5350"/>
<rect x="1010" y="518" width="3" height="9" fill="#ef5350"/>
<rect x="1015" y="526" width="1" height="37" fill="#ef5350"/>
<rect x="1014" y="527" width="3" height="20" fill="#ef5350"/>
<rect x="1019" y="542" width="1" height="14" fill="#ef5350"/>
<rect x="1018" y="546" width="3" height="5" fill="#ef5350"/>
<rect x="1023" y="539" width="1" height="19" fill="#26a69a"/>
<rect x="1022" y="542" width="3" height="9" fill="#26a69a"/>
<rect x="1027" y="538" width="1" height="16" fill="#ef5350"/>
<rect x="1026" y="542" width="3" height="6" fill="#ef5350"/>
<rect x="1031" y="540" width="1" height="15" fill="#ef5350"/>
<rect x="1030" y="547" width="3" height="5" fill="#ef5350"/>
<rect x="1035" y="548" width="1" height="31" fill="#ef5350"/>
<rect x="1034" y="551" width="3" height="28" fill="#ef5350"/>
<rect x="1039" y="552" width="1" height="43" fill="#26a69a"/>
<rect x="1038" y="558" width="3" height="21" fill="#26a69a"/>
<rect x="1043" y="555" width="1" height="10" fill="#ef5350"/>
<rect x="1042" y="558" width="3" height="3" fill="#ef5350"/>
<rect x="1047" y="558" width="1" height="6" fill="#ef5350"/>
<rect x="1046" y="560" width="3" height="3" fill="#ef5350"/>
<rect x="1051" y="559" width="1" height="10" fill="#ef5350"/>
<rect x="1050" y="562" width="3" height="1" fill="#ef5350"/>
<rect x="1056" y="561" width="1" height="8" fill="#ef5350"/>
<rect x="1055" y="563" width="3" height="5" fill="#ef5350"/>
<rect x="1060" y="565" width="1" height="10" fill="#ef5350"/>
<rect x="1059" y="567" width="3" height="5" fill="#ef5350"/>
<rect x="1064" y="562" width="1" height="10" fill="#26a69a"/>
<rect x="1063" y="566" width="3" height="6" fill="#26a69a"/>
<rect x="1068" y="559" width="1" height="11" fill="#26a69a"/>
<rect x="1067" y="560" width="3" height="7" fill="#26a69a"/>
<rect x="1072" y="541" width="1" height="20" fill="#26a69a"/>
<rect x="1071" y="545" width="3" height="16" fill="#26a69a"/>
<rect x="1076" y="540" width="1" height="17" fill="#ef5350"/>
<rect x="1075" y="545" width="3" height="10" fill="#ef5350"/>
<rect x="1080" y="548" width="1" height="9" fill="#26a69a"/>
<rect x="1079" y="550" width="3" height="5" fill="#26a69a"/>
<rect x="1084" y="548" width="1" height="9" fill="#ef5350"/>
<rect x="1083" y="550" width="3" height="5" fill="#ef5350"/>
<rect x="1088" y="550" width="1" height="11" fill="#ef5350"/>
<rect x="1087" y="554" width="3" height="6" fill="#ef5350"/>
<rect x="1092" y="558" width="1" height="6" fill="#ef5350"/>
<rect x="1091" y="559" width="3" height="2" fill="#ef5350"/>
<rect x="1096" y="546" width="1" height="16" fill="#26a69a"/>
<rect x="1095" y="550" width="3" height="11" fill="#26a69a"/>
<rect x="1101" y="550" width="1" height="6" fill="#ef5350"/>
<rect x="1100" y="550" width="3" height="6" fill="#ef5350"/>
<rect x="1105" y="555" width="1" height="8" fill="#ef5350"/>
<rect x="1104" y="555" width="3" height="7" fill="#ef5350"/>
<rect x="1109" y="558" width="1" height="12" fill="#ef5350"/>
<rect x="1108" y="561" width="3" height="7" fill="#ef5350"/>
<rect x="1113" y="566" width="1" height="7" fill="#ef5350"/>
<rect x="1112" y="567" width="3" height="3" fill="#ef5350"/>
<rect x="1117" y="532" width="1" height="38" fill="#26a69a"/>
<rect x="1116" y="543" width="3" height="27" fill="#26a69a"/>
<rect x="1121" y="541" width="1" height="12" fill="#ef5350"/>
<rect x="1120" y="543" width="3" height="8" fill="#ef5350"/>
<rect x="1125" y="544" width="1" height="16" fill="#ef5350"/>
<rect x="1124" y="550" width="3" height="5" fill="#ef5350"/>
<rect x="1129" y="552" width="1" height="17" fill="#26a69a"/>
<rect x="1128" y="553" width="3" height="5" fill="#26a69a"/>
<rect x="1133" y="547" width="1" height="15" fill="#ef5350"/>
<rect x="1132" y="553" width="3" height="6" fill="#ef5350"/>
<rect x="1137" y="549" width="1" height="14" fill="#26a69a"/>
<rect x="1136" y="556" width="3" height="3" fill="#26a69a"/>
<rect x="1141" y="556" width="1" height="12" fill="#ef5350"/>
<rect x="1140" y="557" width="3" height="11" fill="#ef5350"/>
<rect x="1146" y="552" width="1" height="18" fill="#26a69a"/>
<rect x="1145" y="555" width="3" height="13" fill="#26a69a"/>
<rect x="1150" y="555" width="1" height="9" fill="#ef5350"/>
<rect x="1149" y="557" width="3" height="5" fill="#ef5350"/>
<rect x="1154" y="560" width="1" height="11" fill="#ef5350"/>
<rect x="1153" y="562" width="3" height="8" fill="#ef5350"/>
<rect x="1158" y="568" width="1" height="6" fill="#ef5350"/>
<rect x="1157" y="569" width="3" height="4" fill="#ef5350"/>
<rect x="1162" y="570" width="1" height="8" fill="#ef5350"/>
<rect x="1161" y="572" width="3" height="5" fill="#ef5350"/>
<rect x="1166" y="566" width="1" height="11" fill="#26a69a"/>
<rect x="1165" y="572" width="3" height="5" fill="#26a69a"/>
<rect x="1170" y="559" width="1" height="14" fill="#26a69a"/>
<rect x="1169" y="567" width="3" height="5" fill="#26a69a"/>
<rect x="1174" y="563" width="1" height="8" fill="#26a69a"/>
<rect x="1173" y="566" width="3" height="1" fill="#26a69a"/>
<rect x="1178" y="564" width="1" height="6" fill="#26a69a"/>
<rect x="1177" y="565" width="3" height="2" fill="#26a69a"/>
<rect x="1182" y="554" width="1" height="13" fill="#26a69a"/>
<rect x="1181" y="565" width="3" height="2" fill="#26a69a"/>
<rect x="1186" y="564" width="1" height="5" fill="#ef5350"/>
<rect x="1185" y="565" width="3" height="2" fill="#ef5350"/>
<rect x="1191" y="560" width="1" height="8" fill="#26a69a"/>
<rect x="1190" y="561" width="3" height="5" fill="#26a69a"/>
<rect x="1195" y="546" width="1" height="17" fill="#26a69a"/>
<rect x="1194" y="550" width="3" height="12" fill="#26a69a"/>
</g>
<path d="M855.5 348.8 H945 a7 7 0 0 1 7 7 V375.3 a7 7 0 0 1 -7 7 H908.8 L896 437 L891.6 382.3 H855.5 a7 7 0 0 1 -7 -7 V355.8 a7 7 0 0 1 7 -7 Z" fill="#ffffff" stroke="#9b2226" stroke-width="1.4" stroke-linejoin="round"/>
<text x="900.3" y="369.6" font-size="13" fill="#9b2226" stroke="#9b2226" stroke-width="0.3" text-anchor="middle" textLength="82" lengthAdjust="spacingAndGlyphs">Downtrend line</text>
<path d="M827.5 549.7 H898.8 a7 7 0 0 1 7 7 L926.3 549.2 L905.8 573 V575.3 a7 7 0 0 1 -7 7 H827.5 a7 7 0 0 1 -7 -7 V556.7 a7 7 0 0 1 7 -7 Z" fill="#ffffff" stroke="#9b2226" stroke-width="1.4" stroke-linejoin="round"/>
<text x="863.3" y="569.5" font-size="13" fill="#9b2226" stroke="#9b2226" stroke-width="0.3" text-anchor="middle" textLength="65" lengthAdjust="spacingAndGlyphs">Support line</text>
<circle cx="1195.5" cy="613.4" r="11" fill="#ffffff"/>
<circle cx="1195.5" cy="613.4" r="9.7" fill="none" stroke="#9c27b0" stroke-width="1.5"/>
<path d="M1198.2 608.2 L1191.2 613.6 L1195.3 614.1 L1192.1 619 L1199.9 612.9 L1195.8 612.4 Z" fill="#9c27b0"/>
<circle cx="1202.5" cy="606.5" r="4.2" fill="#ffffff"/>
<circle cx="1202.5" cy="606.5" r="2.7" fill="#f23645"/>
<line x1="11" x2="1285" y1="626.5" y2="626.5" stroke="#e1e2e6" stroke-width="1"/>
<line x1="11" x2="1281" y1="679.5" y2="679.5" stroke="#787b86" stroke-width="1" stroke-dasharray="5.6 5.4" shape-rendering="crispEdges"/>
<line x1="11" x2="1281" y1="739.5" y2="739.5" stroke="#b2b5be" stroke-width="1" stroke-dasharray="5.6 5.4" shape-rendering="crispEdges"/>
<line x1="11" x2="1281" y1="798.5" y2="798.5" stroke="#787b86" stroke-width="1" stroke-dasharray="5.6 5.4" shape-rendering="crispEdges"/>
<defs><linearGradient id="gg" x1="0" y1="0" x2="0" y2="1"><stop offset="0" stop-color="#4caf50" stop-opacity="0.45"/><stop offset="1" stop-color="#4caf50" stop-opacity="0"/></linearGradient><linearGradient id="rg" x1="0" y1="0" x2="0" y2="1"><stop offset="0" stop-color="#ff5252" stop-opacity="0"/><stop offset="1" stop-color="#ff5252" stop-opacity="0.25"/></linearGradient><clipPath id="c70"><rect x="0" y="600" width="1300" height="79.5"/></clipPath><clipPath id="c30"><rect x="0" y="798.5" width="1300" height="40"/></clipPath></defs>
<defs><linearGradient id="gg2" gradientUnits="userSpaceOnUse" x1="0" y1="637" x2="0" y2="679.5"><stop offset="0" stop-color="#4caf50" stop-opacity="0.5"/><stop offset="1" stop-color="#4caf50" stop-opacity="0"/></linearGradient><linearGradient id="rg2" gradientUnits="userSpaceOnUse" x1="0" y1="798.5" x2="0" y2="818"><stop offset="0" stop-color="#ff5252" stop-opacity="0"/><stop offset="1" stop-color="#ff5252" stop-opacity="0.3"/></linearGradient></defs>
<polygon points="9.4,679.5 9.4,768.9 13.5,770.2 17.6,770.0 21.7,766.4 25.8,769.6 29.8,780.2 33.9,797.3 38.0,773.2 42.1,766.4 46.2,762.1 50.3,738.7 54.4,732.3 58.5,744.0 62.6,764.2 66.6,772.3 70.7,779.2 74.8,773.2 78.9,774.5 83.0,783.8 87.1,786.2 91.2,787.3 95.3,797.3 99.4,806.4 103.4,811.5 107.5,777.0 111.6,772.1 115.7,781.7 119.8,787.3 123.9,782.4 128.0,777.0 132.1,767.0 136.1,769.6 140.2,786.2 144.3,752.5 148.4,742.3 152.5,757.8 156.6,755.3 160.7,747.8 164.8,751.5 168.9,745.7 172.9,720.6 177.0,696.1 181.1,683.3 185.2,683.3 189.3,674.1 193.4,675.2 197.5,671.1 201.6,665.2 205.7,650.2 209.7,655.6 213.8,651.9 217.9,646.0 222.0,640.0 226.1,637.0 230.2,699.3 234.3,705.2 238.4,701.8 242.5,699.9 246.5,695.6 250.6,719.5 254.7,725.9 258.8,735.5 262.9,747.8 267.0,760.0 271.1,767.4 275.2,751.5 279.3,735.5 283.3,749.8 287.4,740.8 291.5,720.6 295.6,719.1 299.7,714.6 303.8,715.2 307.9,731.9 312.0,703.5 316.0,684.3 320.1,678.6 324.2,674.1 328.3,688.0 332.4,677.9 336.5,698.2 340.6,731.9 344.7,720.6 348.8,731.9 352.8,708.4 356.9,714.6 361.0,716.9 365.1,741.9 369.2,733.3 373.3,737.6 377.4,735.9 381.5,746.1 385.6,748.3 389.6,752.5 393.7,756.1 397.8,740.4 401.9,740.4 406.0,751.5 410.1,741.9 414.2,746.8 418.3,737.6 422.4,725.5 426.4,725.5 430.5,716.9 434.6,712.7 438.7,703.5 442.8,698.6 446.9,722.7 451.0,736.5 455.1,729.1 459.1,714.2 463.2,709.9 467.3,728.4 471.4,727.6 475.5,732.7 479.6,759.6 483.7,768.5 487.8,764.2 491.9,782.4 495.9,766.4 500.0,770.2 504.1,755.3 508.2,756.1 512.3,755.7 516.4,732.3 520.5,722.7 524.6,725.5 528.7,740.2 532.7,741.2 536.8,723.1 540.9,749.8 545.0,740.2 549.1,750.4 553.2,802.6 557.3,803.7 561.4,772.8 565.5,762.1 569.5,768.1 573.6,777.0 577.7,783.4 581.8,788.1 585.9,783.0 590.0,774.5 594.1,770.2 598.2,777.0 602.2,781.7 606.3,771.7 610.4,764.9 614.5,765.3 618.6,751.0 622.7,757.4 626.8,765.3 630.9,768.1 635.0,782.4 639.0,778.1 643.1,775.3 647.2,776.4 651.3,796.2 655.4,806.4 659.5,789.4 663.6,794.1 667.7,766.4 671.8,769.6 675.8,763.2 679.9,755.1 684.0,770.6 688.1,775.3 692.2,781.7 696.3,792.4 700.4,788.1 704.5,795.1 708.6,800.5 712.6,793.6 716.7,798.3 720.8,807.3 724.9,813.9 729.0,815.8 733.1,812.2 737.2,795.1 741.3,797.3 745.4,785.5 749.4,786.6 753.5,793.0 757.6,795.1 761.7,795.8 765.8,807.5 769.9,764.2 774.0,752.5 778.1,758.3 782.1,771.1 786.2,772.3 790.3,769.6 794.4,756.8 798.5,729.7 802.6,741.9 806.7,757.8 810.8,766.4 814.9,765.3 818.9,773.2 823.0,777.0 827.1,778.5 831.2,787.7 835.3,795.8 839.4,771.7 843.5,773.8 847.6,777.5 851.7,773.2 855.7,778.1 859.8,781.7 863.9,789.4 868.0,781.7 872.1,760.4 876.2,761.0 880.3,772.1 884.4,773.8 888.5,786.6 892.5,760.0 896.6,729.1 900.7,733.3 904.8,724.8 908.9,711.0 913.0,712.0 917.1,728.0 921.2,734.4 925.2,738.2 929.3,740.4 933.4,738.0 937.5,742.9 941.6,711.4 945.7,719.5 949.8,738.7 953.9,736.5 958.0,735.0 962.0,754.7 966.1,759.3 970.2,774.5 974.3,757.8 978.4,763.2 982.5,762.1 986.6,763.8 990.7,779.2 994.8,764.2 998.8,753.2 1002.9,756.1 1007.0,774.9 1011.1,786.0 1015.2,800.5 1019.3,804.7 1023.4,788.1 1027.5,791.9 1031.6,795.1 1035.6,815.4 1039.7,781.7 1043.8,783.8 1047.9,785.1 1052.0,785.5 1056.1,789.8 1060.2,793.6 1064.3,783.0 1068.4,772.3 1072.4,747.8 1076.5,758.5 1080.6,755.1 1084.7,758.9 1088.8,764.9 1092.9,765.7 1097.0,751.0 1101.1,755.1 1105.1,763.2 1109.2,772.8 1113.3,776.0 1117.4,730.1 1121.5,740.8 1125.6,749.3 1129.7,746.1 1133.8,753.2 1137.9,748.9 1141.9,763.2 1146.0,746.8 1150.1,754.0 1154.2,763.2 1158.3,767.4 1162.4,772.3 1166.5,763.2 1170.6,754.2 1174.7,753.2 1178.7,751.5 1182.8,748.7 1186.9,752.1 1191.0,740.8 1195.1,716.3 1195.1,679.5" fill="url(#gg2)" clip-path="url(#c70)"/>
<polygon points="9.4,798.5 9.4,768.9 13.5,770.2 17.6,770.0 21.7,766.4 25.8,769.6 29.8,780.2 33.9,797.3 38.0,773.2 42.1,766.4 46.2,762.1 50.3,738.7 54.4,732.3 58.5,744.0 62.6,764.2 66.6,772.3 70.7,779.2 74.8,773.2 78.9,774.5 83.0,783.8 87.1,786.2 91.2,787.3 95.3,797.3 99.4,806.4 103.4,811.5 107.5,777.0 111.6,772.1 115.7,781.7 119.8,787.3 123.9,782.4 128.0,777.0 132.1,767.0 136.1,769.6 140.2,786.2 144.3,752.5 148.4,742.3 152.5,757.8 156.6,755.3 160.7,747.8 164.8,751.5 168.9,745.7 172.9,720.6 177.0,696.1 181.1,683.3 185.2,683.3 189.3,674.1 193.4,675.2 197.5,671.1 201.6,665.2 205.7,650.2 209.7,655.6 213.8,651.9 217.9,646.0 222.0,640.0 226.1,637.0 230.2,699.3 234.3,705.2 238.4,701.8 242.5,699.9 246.5,695.6 250.6,719.5 254.7,725.9 258.8,735.5 262.9,747.8 267.0,760.0 271.1,767.4 275.2,751.5 279.3,735.5 283.3,749.8 287.4,740.8 291.5,720.6 295.6,719.1 299.7,714.6 303.8,715.2 307.9,731.9 312.0,703.5 316.0,684.3 320.1,678.6 324.2,674.1 328.3,688.0 332.4,677.9 336.5,698.2 340.6,731.9 344.7,720.6 348.8,731.9 352.8,708.4 356.9,714.6 361.0,716.9 365.1,741.9 369.2,733.3 373.3,737.6 377.4,735.9 381.5,746.1 385.6,748.3 389.6,752.5 393.7,756.1 397.8,740.4 401.9,740.4 406.0,751.5 410.1,741.9 414.2,746.8 418.3,737.6 422.4,725.5 426.4,725.5 430.5,716.9 434.6,712.7 438.7,703.5 442.8,698.6 446.9,722.7 451.0,736.5 455.1,729.1 459.1,714.2 463.2,709.9 467.3,728.4 471.4,727.6 475.5,732.7 479.6,759.6 483.7,768.5 487.8,764.2 491.9,782.4 495.9,766.4 500.0,770.2 504.1,755.3 508.2,756.1 512.3,755.7 516.4,732.3 520.5,722.7 524.6,725.5 528.7,740.2 532.7,741.2 536.8,723.1 540.9,749.8 545.0,740.2 549.1,750.4 553.2,802.6 557.3,803.7 561.4,772.8 565.5,762.1 569.5,768.1 573.6,777.0 577.7,783.4 581.8,788.1 585.9,783.0 590.0,774.5 594.1,770.2 598.2,777.0 602.2,781.7 606.3,771.7 610.4,764.9 614.5,765.3 618.6,751.0 622.7,757.4 626.8,765.3 630.9,768.1 635.0,782.4 639.0,778.1 643.1,775.3 647.2,776.4 651.3,796.2 655.4,806.4 659.5,789.4 663.6,794.1 667.7,766.4 671.8,769.6 675.8,763.2 679.9,755.1 684.0,770.6 688.1,775.3 692.2,781.7 696.3,792.4 700.4,788.1 704.5,795.1 708.6,800.5 712.6,793.6 716.7,798.3 720.8,807.3 724.9,813.9 729.0,815.8 733.1,812.2 737.2,795.1 741.3,797.3 745.4,785.5 749.4,786.6 753.5,793.0 757.6,795.1 761.7,795.8 765.8,807.5 769.9,764.2 774.0,752.5 778.1,758.3 782.1,771.1 786.2,772.3 790.3,769.6 794.4,756.8 798.5,729.7 802.6,741.9 806.7,757.8 810.8,766.4 814.9,765.3 818.9,773.2 823.0,777.0 827.1,778.5 831.2,787.7 835.3,795.8 839.4,771.7 843.5,773.8 847.6,777.5 851.7,773.2 855.7,778.1 859.8,781.7 863.9,789.4 868.0,781.7 872.1,760.4 876.2,761.0 880.3,772.1 884.4,773.8 888.5,786.6 892.5,760.0 896.6,729.1 900.7,733.3 904.8,724.8 908.9,711.0 913.0,712.0 917.1,728.0 921.2,734.4 925.2,738.2 929.3,740.4 933.4,738.0 937.5,742.9 941.6,711.4 945.7,719.5 949.8,738.7 953.9,736.5 958.0,735.0 962.0,754.7 966.1,759.3 970.2,774.5 974.3,757.8 978.4,763.2 982.5,762.1 986.6,763.8 990.7,779.2 994.8,764.2 998.8,753.2 1002.9,756.1 1007.0,774.9 1011.1,786.0 1015.2,800.5 1019.3,804.7 1023.4,788.1 1027.5,791.9 1031.6,795.1 1035.6,815.4 1039.7,781.7 1043.8,783.8 1047.9,785.1 1052.0,785.5 1056.1,789.8 1060.2,793.6 1064.3,783.0 1068.4,772.3 1072.4,747.8 1076.5,758.5 1080.6,755.1 1084.7,758.9 1088.8,764.9 1092.9,765.7 1097.0,751.0 1101.1,755.1 1105.1,763.2 1109.2,772.8 1113.3,776.0 1117.4,730.1 1121.5,740.8 1125.6,749.3 1129.7,746.1 1133.8,753.2 1137.9,748.9 1141.9,763.2 1146.0,746.8 1150.1,754.0 1154.2,763.2 1158.3,767.4 1162.4,772.3 1166.5,763.2 1170.6,754.2 1174.7,753.2 1178.7,751.5 1182.8,748.7 1186.9,752.1 1191.0,740.8 1195.1,716.3 1195.1,798.5" fill="url(#rg2)" clip-path="url(#c30)"/>
<path d="M10.1 735.5 C11.4 736.4 14.9 738.9 17.6 740.8 C20.3 742.7 23.5 744.2 26.1 746.8 C28.7 749.3 30.8 753.9 33.1 756.1 C35.5 758.3 37.6 758.8 40.0 760.0 C42.3 761.1 44.2 762.5 47.4 763.2 C50.6 763.8 55.4 763.5 59.1 763.8 C62.9 764.2 66.6 764.9 69.8 765.3 C73.0 765.7 75.7 766.0 78.3 766.4 C81.0 766.7 83.5 767.3 85.8 767.4 C88.1 767.5 89.9 766.3 92.2 767.0 C94.5 767.7 97.0 769.8 99.6 771.7 C102.3 773.6 105.3 776.5 108.1 778.5 C111.0 780.6 114.0 782.8 116.7 784.1 C119.3 785.3 121.3 785.7 124.1 786.0 C127.0 786.2 131.1 785.7 133.7 785.5 C136.4 785.4 138.0 785.6 140.1 784.9 C142.2 784.2 144.0 783.0 146.5 781.3 C149.0 779.5 152.7 776.6 155.0 774.5 C157.3 772.3 158.2 770.1 160.4 768.5 C162.5 766.9 165.1 766.8 167.8 764.7 C170.5 762.5 173.5 759.7 176.3 755.7 C179.2 751.7 181.7 746.8 184.9 740.8 C188.1 734.8 192.0 725.7 195.5 719.5 C199.1 713.3 202.6 709.2 206.2 703.5 C209.7 697.8 214.0 690.4 216.8 685.4 C219.7 680.4 221.6 676.7 223.2 673.7 C224.8 670.7 225.2 668.5 226.4 667.3 C227.6 666.0 228.7 666.1 230.7 666.2 C232.6 666.3 235.5 667.1 238.1 667.9 C240.8 668.7 243.8 669.0 246.6 670.9 C249.5 672.8 252.3 675.6 255.2 679.4 C258.0 683.3 260.5 688.1 263.7 693.9 C266.9 699.7 271.2 708.4 274.3 714.2 C277.5 719.9 280.4 725.5 282.9 728.4 C285.4 731.4 287.0 730.9 289.3 731.9 C291.5 732.8 295.1 733.6 296.5 734.0 C298.0 734.4 296.2 734.0 298.0 734.4 C299.8 734.8 304.2 737.0 307.2 736.5 C310.1 736.1 312.9 734.5 315.7 731.9 C318.5 729.2 321.6 724.2 324.2 720.6 C326.9 716.9 329.4 712.4 331.7 709.9 C334.0 707.4 336.1 706.6 338.1 705.6 C340.0 704.7 340.7 704.4 343.4 704.2 C346.1 703.9 350.9 703.9 354.1 703.9 C357.3 703.9 360.1 703.7 362.6 704.2 C365.1 704.6 366.5 704.9 369.0 706.7 C371.5 708.6 374.7 712.0 377.5 715.2 C380.3 718.4 383.4 722.8 386.0 725.9 C388.7 729.0 391.0 732.1 393.5 733.8 C396.0 735.4 398.3 734.9 400.9 735.9 C403.6 736.9 406.6 738.5 409.5 739.7 C412.3 741.0 415.1 743.2 418.0 743.6 C420.8 743.9 423.7 742.7 426.5 741.9 C429.3 741.0 432.2 740.3 435.0 738.7 C437.9 737.0 440.7 733.6 443.5 731.9 C446.4 730.1 449.6 729.4 452.1 728.4 C454.6 727.4 456.3 726.8 458.5 725.9 C460.6 724.9 462.2 723.6 464.9 722.7 C467.5 721.8 471.6 720.2 474.4 720.6 C477.3 720.9 479.2 722.9 481.9 724.8 C484.6 726.8 487.2 729.1 490.4 732.3 C493.6 735.5 497.5 741.2 501.1 744.0 C504.6 746.8 508.5 747.7 511.7 748.9 C514.9 750.1 516.9 750.9 520.3 751.5 C523.6 752.1 528.4 753.1 532.0 752.5 C535.5 752.0 538.7 749.5 541.6 748.3 C544.4 747.0 546.5 744.8 549.0 745.1 C551.5 745.3 553.5 748.6 556.5 749.8 C559.5 750.9 564.1 750.6 567.1 751.9 C570.1 753.2 571.9 755.2 574.4 757.4 C576.8 759.7 579.4 763.2 581.9 765.3 C584.3 767.4 586.6 768.4 589.3 770.2 C592.0 772.0 595.2 774.4 597.8 776.0 C600.5 777.6 603.2 779.8 605.3 779.8 C607.4 779.8 608.5 777.1 610.6 776.0 C612.7 774.8 615.2 773.4 618.1 772.8 C620.9 772.1 624.6 772.4 627.7 772.1 C630.7 771.8 633.0 771.3 636.2 771.1 C639.4 770.8 643.6 770.0 646.8 770.6 C650.0 771.3 652.5 773.9 655.4 774.9 C658.2 775.9 660.7 776.1 663.9 776.6 C667.1 777.1 671.0 777.4 674.5 777.7 C678.1 777.9 681.6 777.7 685.2 778.1 C688.7 778.4 692.3 779.2 695.8 779.8 C699.4 780.4 703.7 781.7 706.5 781.9 C709.3 782.2 710.8 781.2 712.9 781.3 C715.0 781.4 716.8 781.1 719.3 782.4 C721.8 783.6 725.0 786.6 727.8 788.7 C730.7 790.9 733.5 793.5 736.3 795.1 C739.2 796.7 741.7 797.6 744.9 798.3 C748.1 799.0 752.0 799.2 755.5 799.4 C759.1 799.6 763.3 800.1 766.2 799.4 C769.0 798.7 769.7 797.1 772.6 795.1 C775.4 793.2 779.7 790.3 783.2 787.7 C786.8 785.0 791.0 781.7 793.9 779.2 C796.7 776.6 797.8 774.3 800.3 772.3 C802.7 770.4 805.9 768.9 808.8 767.4 C811.6 766.0 814.8 764.9 817.3 763.8 C819.8 762.7 820.9 760.4 823.7 761.0 C826.5 761.6 830.8 766.3 834.3 767.4 C837.9 768.6 841.7 767.2 845.0 768.1 C848.3 769.0 851.8 771.3 854.4 772.8 C857.0 774.3 858.5 776.0 860.8 777.0 C863.1 778.0 865.4 778.7 868.2 778.7 C871.1 778.8 874.6 777.8 877.8 777.5 C881.0 777.1 884.9 777.3 887.4 776.6 C889.9 775.9 890.4 774.7 892.7 773.2 C895.1 771.7 898.1 770.3 901.3 767.4 C904.5 764.5 908.0 759.4 911.9 755.7 C915.8 752.0 920.8 747.5 924.7 745.1 C928.6 742.6 932.5 742.6 935.4 740.8 C938.2 739.0 939.8 736.4 941.8 734.4 C943.7 732.5 945.3 730.0 947.1 729.1 C948.9 728.1 950.5 728.5 952.4 728.7 C954.4 728.8 956.8 728.9 958.8 729.7 C960.8 730.5 962.2 731.7 964.1 733.3 C966.1 735.0 967.9 737.9 970.5 739.7 C973.2 741.6 976.9 742.9 980.1 744.6 C983.3 746.3 986.5 748.3 989.7 750.0 C992.9 751.6 996.3 752.8 999.3 754.7 C1002.3 756.5 1004.6 758.4 1007.8 761.0 C1011.0 763.7 1015.1 768.2 1018.5 770.6 C1021.8 773.0 1025.2 773.8 1028.1 775.5 C1030.9 777.3 1032.8 779.8 1035.5 781.3 C1038.2 782.8 1041.2 783.5 1044.0 784.5 C1046.9 785.5 1049.7 786.1 1052.6 787.3 C1055.4 788.4 1058.6 790.8 1061.1 791.5 C1063.6 792.2 1065.8 792.1 1067.5 791.5 C1069.1 790.9 1069.0 789.8 1071.0 788.1 C1073.0 786.4 1076.0 783.8 1079.5 781.3 C1083.1 778.7 1088.4 775.0 1092.3 772.8 C1096.2 770.6 1099.6 769.2 1103.0 768.1 C1106.3 766.9 1109.7 767.3 1112.6 765.7 C1115.4 764.2 1117.7 760.5 1120.0 758.9 C1122.3 757.3 1123.9 756.8 1126.4 756.4 C1128.9 755.9 1132.1 756.4 1134.9 756.1 C1137.8 755.9 1140.8 755.1 1143.4 754.7 C1146.1 754.2 1148.1 753.4 1150.9 753.6 C1153.7 753.8 1157.5 755.6 1160.5 755.7 C1163.5 755.8 1166.2 754.2 1169.0 754.2 C1171.9 754.2 1174.7 755.4 1177.5 755.7 C1180.4 756.0 1183.8 756.2 1186.1 756.1 C1188.4 756.0 1189.9 755.6 1191.4 755.1 C1192.9 754.6 1194.4 753.5 1195.0 753.2" fill="none" stroke="#fdd835" stroke-width="1.1" stroke-linejoin="round"/>
<polyline points="9.4,768.9 13.5,770.2 17.6,770.0 21.7,766.4 25.8,769.6 29.8,780.2 33.9,797.3 38.0,773.2 42.1,766.4 46.2,762.1 50.3,738.7 54.4,732.3 58.5,744.0 62.6,764.2 66.6,772.3 70.7,779.2 74.8,773.2 78.9,774.5 83.0,783.8 87.1,786.2 91.2,787.3 95.3,797.3 99.4,806.4 103.4,811.5 107.5,777.0 111.6,772.1 115.7,781.7 119.8,787.3 123.9,782.4 128.0,777.0 132.1,767.0 136.1,769.6 140.2,786.2 144.3,752.5 148.4,742.3 152.5,757.8 156.6,755.3 160.7,747.8 164.8,751.5 168.9,745.7 172.9,720.6 177.0,696.1 181.1,683.3 185.2,683.3 189.3,674.1 193.4,675.2 197.5,671.1 201.6,665.2 205.7,650.2 209.7,655.6 213.8,651.9 217.9,646.0 222.0,640.0 226.1,637.0 230.2,699.3 234.3,705.2 238.4,701.8 242.5,699.9 246.5,695.6 250.6,719.5 254.7,725.9 258.8,735.5 262.9,747.8 267.0,760.0 271.1,767.4 275.2,751.5 279.3,735.5 283.3,749.8 287.4,740.8 291.5,720.6 295.6,719.1 299.7,714.6 303.8,715.2 307.9,731.9 312.0,703.5 316.0,684.3 320.1,678.6 324.2,674.1 328.3,688.0 332.4,677.9 336.5,698.2 340.6,731.9 344.7,720.6 348.8,731.9 352.8,708.4 356.9,714.6 361.0,716.9 365.1,741.9 369.2,733.3 373.3,737.6 377.4,735.9 381.5,746.1 385.6,748.3 389.6,752.5 393.7,756.1 397.8,740.4 401.9,740.4 406.0,751.5 410.1,741.9 414.2,746.8 418.3,737.6 422.4,725.5 426.4,725.5 430.5,716.9 434.6,712.7 438.7,703.5 442.8,698.6 446.9,722.7 451.0,736.5 455.1,729.1 459.1,714.2 463.2,709.9 467.3,728.4 471.4,727.6 475.5,732.7 479.6,759.6 483.7,768.5 487.8,764.2 491.9,782.4 495.9,766.4 500.0,770.2 504.1,755.3 508.2,756.1 512.3,755.7 516.4,732.3 520.5,722.7 524.6,725.5 528.7,740.2 532.7,741.2 536.8,723.1 540.9,749.8 545.0,740.2 549.1,750.4 553.2,802.6 557.3,803.7 561.4,772.8 565.5,762.1 569.5,768.1 573.6,777.0 577.7,783.4 581.8,788.1 585.9,783.0 590.0,774.5 594.1,770.2 598.2,777.0 602.2,781.7 606.3,771.7 610.4,764.9 614.5,765.3 618.6,751.0 622.7,757.4 626.8,765.3 630.9,768.1 635.0,782.4 639.0,778.1 643.1,775.3 647.2,776.4 651.3,796.2 655.4,806.4 659.5,789.4 663.6,794.1 667.7,766.4 671.8,769.6 675.8,763.2 679.9,755.1 684.0,770.6 688.1,775.3 692.2,781.7 696.3,792.4 700.4,788.1 704.5,795.1 708.6,800.5 712.6,793.6 716.7,798.3 720.8,807.3 724.9,813.9 729.0,815.8 733.1,812.2 737.2,795.1 741.3,797.3 745.4,785.5 749.4,786.6 753.5,793.0 757.6,795.1 761.7,795.8 765.8,807.5 769.9,764.2 774.0,752.5 778.1,758.3 782.1,771.1 786.2,772.3 790.3,769.6 794.4,756.8 798.5,729.7 802.6,741.9 806.7,757.8 810.8,766.4 814.9,765.3 818.9,773.2 823.0,777.0 827.1,778.5 831.2,787.7 835.3,795.8 839.4,771.7 843.5,773.8 847.6,777.5 851.7,773.2 855.7,778.1 859.8,781.7 863.9,789.4 868.0,781.7 872.1,760.4 876.2,761.0 880.3,772.1 884.4,773.8 888.5,786.6 892.5,760.0 896.6,729.1 900.7,733.3 904.8,724.8 908.9,711.0 913.0,712.0 917.1,728.0 921.2,734.4 925.2,738.2 929.3,740.4 933.4,738.0 937.5,742.9 941.6,711.4 945.7,719.5 949.8,738.7 953.9,736.5 958.0,735.0 962.0,754.7 966.1,759.3 970.2,774.5 974.3,757.8 978.4,763.2 982.5,762.1 986.6,763.8 990.7,779.2 994.8,764.2 998.8,753.2 1002.9,756.1 1007.0,774.9 1011.1,786.0 1015.2,800.5 1019.3,804.7 1023.4,788.1 1027.5,791.9 1031.6,795.1 1035.6,815.4 1039.7,781.7 1043.8,783.8 1047.9,785.1 1052.0,785.5 1056.1,789.8 1060.2,793.6 1064.3,783.0 1068.4,772.3 1072.4,747.8 1076.5,758.5 1080.6,755.1 1084.7,758.9 1088.8,764.9 1092.9,765.7 1097.0,751.0 1101.1,755.1 1105.1,763.2 1109.2,772.8 1113.3,776.0 1117.4,730.1 1121.5,740.8 1125.6,749.3 1129.7,746.1 1133.8,753.2 1137.9,748.9 1141.9,763.2 1146.0,746.8 1150.1,754.0 1154.2,763.2 1158.3,767.4 1162.4,772.3 1166.5,763.2 1170.6,754.2 1174.7,753.2 1178.7,751.5 1182.8,748.7 1186.9,752.1 1191.0,740.8 1195.1,716.3" fill="none" stroke="#7e57c2" stroke-width="2.6" stroke-linejoin="round" stroke-linecap="round"/>
</g>
<rect x="1286" y="28" width="64.5" height="826.5" fill="#ffffff"/>
<line x1="1285.5" x2="1285.5" y1="28" y2="855" stroke="#e1e2e6" stroke-width="1"/>
<line x1="11" x2="1351" y1="827.5" y2="827.5" stroke="#e1e2e6" stroke-width="1"/>
<text x="1294" y="74.0" font-size="12" fill="#131722" stroke="#131722" stroke-width="0.25" textLength="35.5" lengthAdjust="spacingAndGlyphs">1.0000</text>
<text x="1294" y="107.7" font-size="12" fill="#131722" stroke="#131722" stroke-width="0.25" textLength="35.5" lengthAdjust="spacingAndGlyphs">0.9500</text>
<text x="1294" y="141.4" font-size="12" fill="#131722" stroke="#131722" stroke-width="0.25" textLength="35.5" lengthAdjust="spacingAndGlyphs">0.9000</text>
<text x="1294" y="175.1" font-size="12" fill="#131722" stroke="#131722" stroke-width="0.25" textLength="35.5" lengthAdjust="spacingAndGlyphs">0.8500</text>
<text x="1294" y="208.8" font-size="12" fill="#131722" stroke="#131722" stroke-width="0.25" textLength="35.5" lengthAdjust="spacingAndGlyphs">0.8000</text>
<text x="1294" y="242.5" font-size="12" fill="#131722" stroke="#131722" stroke-width="0.25" textLength="35.5" lengthAdjust="spacingAndGlyphs">0.7500</text>
<text x="1294" y="276.2" font-size="12" fill="#131722" stroke="#131722" stroke-width="0.25" textLength="35.5" lengthAdjust="spacingAndGlyphs">0.7000</text>
<text x="1294" y="309.8" font-size="12" fill="#131722" stroke="#131722" stroke-width="0.25" textLength="35.5" lengthAdjust="spacingAndGlyphs">0.6500</text>
<text x="1294" y="343.5" font-size="12" fill="#131722" stroke="#131722" stroke-width="0.25" textLength="35.5" lengthAdjust="spacingAndGlyphs">0.6000</text>
<text x="1294" y="377.2" font-size="12" fill="#131722" stroke="#131722" stroke-width="0.25" textLength="35.5" lengthAdjust="spacingAndGlyphs">0.5500</text>
<text x="1294" y="410.9" font-size="12" fill="#131722" stroke="#131722" stroke-width="0.25" textLength="35.5" lengthAdjust="spacingAndGlyphs">0.5000</text>
<text x="1294" y="444.6" font-size="12" fill="#131722" stroke="#131722" stroke-width="0.25" textLength="35.5" lengthAdjust="spacingAndGlyphs">0.4500</text>
<text x="1294" y="478.3" font-size="12" fill="#131722" stroke="#131722" stroke-width="0.25" textLength="35.5" lengthAdjust="spacingAndGlyphs">0.4000</text>
<text x="1294" y="512.0" font-size="12" fill="#131722" stroke="#131722" stroke-width="0.25" textLength="35.5" lengthAdjust="spacingAndGlyphs">0.3500</text>
<text x="1294" y="545.6" font-size="12" fill="#131722" stroke="#131722" stroke-width="0.25" textLength="35.5" lengthAdjust="spacingAndGlyphs">0.3000</text>
<text x="1294" y="653.7" font-size="12" fill="#131722" stroke="#131722" stroke-width="0.25" textLength="29.5" lengthAdjust="spacingAndGlyphs">80.00</text>
<text x="1294" y="713.1" font-size="12" fill="#131722" stroke="#131722" stroke-width="0.25" textLength="29.5" lengthAdjust="spacingAndGlyphs">60.00</text>
<text x="1294" y="772.5" font-size="12" fill="#131722" stroke="#131722" stroke-width="0.25" textLength="29.5" lengthAdjust="spacingAndGlyphs">40.00</text>
<rect x="1289.5" y="31.5" width="57" height="25" rx="3" fill="#ffffff" stroke="#eceef2" stroke-width="1"/>
<text x="1298" y="48.5" font-size="12" fill="#131722" stroke="#131722" stroke-width="0.25" textLength="28" lengthAdjust="spacingAndGlyphs">USDT</text>
<path d="M1286 382 H1333 a2 2 0 0 1 2 2 V397 a2 2 0 0 1 -2 2 H1286 Z" fill="#0000ff"/>
<text x="1294" y="395" font-size="12" fill="#fff" stroke="#fff" stroke-width="0.45" textLength="36" lengthAdjust="spacingAndGlyphs">0.5000</text>
<path d="M1286 399 H1333 a2 2 0 0 1 2 2 V414 a2 2 0 0 1 -2 2 H1286 Z" fill="#0000ff"/>
<text x="1294" y="412" font-size="12" fill="#fff" stroke="#fff" stroke-width="0.45" textLength="36" lengthAdjust="spacingAndGlyphs">0.5000</text>
<path d="M1286 513 H1333 a2 2 0 0 1 2 2 V528 a2 2 0 0 1 -2 2 H1286 Z" fill="#0000ff"/>
<text x="1294" y="526" font-size="12" fill="#fff" stroke="#fff" stroke-width="0.45" textLength="36" lengthAdjust="spacingAndGlyphs">0.3300</text>
<path d="M1285.5 542 H1229 a2 2 0 0 0 -2 2 V557 a2 2 0 0 0 2 2 H1285.5 Z" fill="#26a69a"/>
<text x="1231.5" y="555" font-size="11.5" fill="#fff" stroke="#fff" stroke-width="0.45" textLength="49" lengthAdjust="spacingAndGlyphs">ADAUSDT</text>
<path d="M1286 542 H1344 a2 2 0 0 1 2 2 V585 a2 2 0 0 1 -2 2 H1286 Z" fill="#26a69a"/>
<text x="1294" y="555" font-size="12" fill="#fff" stroke="#fff" stroke-width="0.45" textLength="36" lengthAdjust="spacingAndGlyphs">0.2874</text>
<text x="1294" y="569" font-size="12" fill="#fff" stroke="#fff" stroke-width="0.45" textLength="43" lengthAdjust="spacingAndGlyphs">−60.20%</text>
<text x="1294" y="583" font-size="12" fill="#d5efeb" stroke="#d5efeb" stroke-width="0.45" textLength="46.5" lengthAdjust="spacingAndGlyphs">09:48:22</text>
<path d="M1285.5 587 H1237 a2 2 0 0 0 -2 2 V602 a2 2 0 0 0 2 2 H1285.5 Z" fill="#f23645"/>
<text x="1240" y="600" font-size="11.5" fill="#fff" stroke="#fff" stroke-width="0.45" textLength="41" lengthAdjust="spacingAndGlyphs">SMA:MA</text>
<path d="M1286 587 H1333 a2 2 0 0 1 2 2 V602 a2 2 0 0 1 -2 2 H1286 Z" fill="#f23645"/>
<text x="1294" y="600" font-size="12" fill="#fff" stroke="#fff" stroke-width="0.45" textLength="36" lengthAdjust="spacingAndGlyphs">0.2803</text>
<path d="M1285.5 604 H1256 a2 2 0 0 0 -2 2 V619 a2 2 0 0 0 2 2 H1285.5 Z" fill="#2962ff"/>
<text x="1259" y="617" font-size="11.5" fill="#fff" stroke="#fff" stroke-width="0.45" textLength="22" lengthAdjust="spacingAndGlyphs">EMA</text>
<path d="M1286 604 H1333 a2 2 0 0 1 2 2 V619 a2 2 0 0 1 -2 2 H1286 Z" fill="#2962ff"/>
<text x="1294" y="617" font-size="12" fill="#fff" stroke="#fff" stroke-width="0.45" textLength="36" lengthAdjust="spacingAndGlyphs">0.2697</text>
<path d="M1285.5 709 H1262 a2 2 0 0 0 -2 2 V723.5 a2 2 0 0 0 2 2 H1285.5 Z" fill="#7e57c2"/>
<text x="1265" y="722" font-size="11.5" fill="#fff" stroke="#fff" stroke-width="0.45" textLength="16" lengthAdjust="spacingAndGlyphs">RSI</text>
<path d="M1286 709 H1327 a2 2 0 0 1 2 2 V723.5 a2 2 0 0 1 -2 2 H1286 Z" fill="#7e57c2"/>
<text x="1294" y="722" font-size="12" fill="#fff" stroke="#fff" stroke-width="0.45" textLength="30" lengthAdjust="spacingAndGlyphs">57.20</text>
<path d="M1285.5 746 H1208 a2 2 0 0 0 -2 2 V760.5 a2 2 0 0 0 2 2 H1285.5 Z" fill="#fdd835"/>
<text x="1210" y="759" font-size="11.5" fill="#131722" stroke="#131722" stroke-width="0.25" textLength="71" lengthAdjust="spacingAndGlyphs">RSI-based MA</text>
<path d="M1286 746 H1327 a2 2 0 0 1 2 2 V760.5 a2 2 0 0 1 -2 2 H1286 Z" fill="#fdd835"/>
<text x="1294" y="759" font-size="12" fill="#131722" stroke="#131722" stroke-width="0.25" textLength="30" lengthAdjust="spacingAndGlyphs">44.96</text>
<defs><clipPath id="fr"><rect x="10.8" y="828" width="1275" height="27"/></clipPath></defs>
<g clip-path="url(#fr)">
<text x="17.5" y="845" font-size="12" fill="#131722" text-anchor="middle" stroke="#131722" stroke-width="0.25" textLength="17.5" lengthAdjust="spacingAndGlyphs">Jun</text>
<text x="140.5" y="845" font-size="12" fill="#131722" text-anchor="middle" stroke="#131722" stroke-width="0.25" textLength="15.5" lengthAdjust="spacingAndGlyphs">Jul</text>
<text x="266.5" y="845" font-size="12" fill="#131722" text-anchor="middle" stroke="#131722" stroke-width="0.25" textLength="19.3" lengthAdjust="spacingAndGlyphs">Aug</text>
<text x="393.5" y="845" font-size="12" fill="#131722" text-anchor="middle" stroke="#131722" stroke-width="0.25" textLength="19" lengthAdjust="spacingAndGlyphs">Sep</text>
<text x="516.5" y="845" font-size="12" fill="#131722" text-anchor="middle" stroke="#131722" stroke-width="0.25" textLength="19" lengthAdjust="spacingAndGlyphs">Oct</text>
<text x="643.5" y="845" font-size="12" fill="#131722" text-anchor="middle" stroke="#131722" stroke-width="0.25" textLength="20.6" lengthAdjust="spacingAndGlyphs">Nov</text>
<text x="765.5" y="845" font-size="12" fill="#131722" text-anchor="middle" stroke="#131722" stroke-width="0.25" textLength="20" lengthAdjust="spacingAndGlyphs">Dec</text>
<text x="892.5" y="845" font-size="12" fill="#131722" text-anchor="middle" font-weight="bold" textLength="26.5" lengthAdjust="spacingAndGlyphs">2026</text>
<text x="1019.5" y="845" font-size="12" fill="#131722" text-anchor="middle" stroke="#131722" stroke-width="0.25" textLength="19.2" lengthAdjust="spacingAndGlyphs">Feb</text>
<text x="1133.5" y="845" font-size="12" fill="#131722" text-anchor="middle" stroke="#131722" stroke-width="0.25" textLength="19" lengthAdjust="spacingAndGlyphs">Mar</text>
<text x="1260.5" y="845" font-size="12" fill="#131722" text-anchor="middle" stroke="#131722" stroke-width="0.25" textLength="18.3" lengthAdjust="spacingAndGlyphs">Apr</text>
</g>
<text x="10.3" y="19" font-size="13" fill="#131722" stroke="#131722" stroke-width="0.25" textLength="59.5" lengthAdjust="spacingAndGlyphs">ranadagger</text>
<text x="74.3" y="19" font-size="13" fill="#131722" stroke="#131722" stroke-width="0.25" textLength="40.2" lengthAdjust="spacingAndGlyphs">created</text>
<text x="119.2" y="19" font-size="13" fill="#131722" stroke="#131722" stroke-width="0.25" textLength="22.3" lengthAdjust="spacingAndGlyphs">with</text>
<text x="146" y="19" font-size="13" fill="#131722" stroke="#131722" stroke-width="0.25" textLength="94" lengthAdjust="spacingAndGlyphs">TradingView.com,</text>
<text x="245.1" y="19" font-size="13" fill="#131722" stroke="#131722" stroke-width="0.25" textLength="18.7" lengthAdjust="spacingAndGlyphs">Mar</text>
<text x="269.4" y="19" font-size="13" fill="#131722" stroke="#131722" stroke-width="0.25" textLength="13.1" lengthAdjust="spacingAndGlyphs">16,</text>
<text x="288.4" y="19" font-size="13" fill="#131722" stroke="#131722" stroke-width="0.25" textLength="24.3" lengthAdjust="spacingAndGlyphs">2026</text>
<text x="317.7" y="19" font-size="13" fill="#131722" stroke="#131722" stroke-width="0.25" textLength="26.3" lengthAdjust="spacingAndGlyphs">14:11</text>
<text x="350.4" y="19" font-size="13" fill="#131722" stroke="#131722" stroke-width="0.25" textLength="21.5" lengthAdjust="spacingAndGlyphs">UTC</text>
<text x="18.1" y="46" font-size="12" fill="#131722" stroke="#131722" stroke-width="0.25" textLength="44.0" lengthAdjust="spacingAndGlyphs">Cardano</text>
<text x="69.7" y="46" font-size="12" fill="#131722" text-anchor="middle" stroke="#131722" stroke-width="0.25">/</text>
<text x="76.4" y="46" font-size="12" fill="#131722" stroke="#131722" stroke-width="0.25" textLength="46.8" lengthAdjust="spacingAndGlyphs">TetherUS</text>
<text x="129.5" y="46" font-size="12" fill="#131722" text-anchor="middle" stroke="#131722" stroke-width="0.25">·</text>
<text x="136" y="46" font-size="12" fill="#131722" stroke="#131722" stroke-width="0.25" textLength="12" lengthAdjust="spacingAndGlyphs">1D</text>
<text x="154.9" y="46" font-size="12" fill="#131722" text-anchor="middle" stroke="#131722" stroke-width="0.25">·</text>
<text x="161" y="46" font-size="12" fill="#131722" stroke="#131722" stroke-width="0.25" textLength="40.9" lengthAdjust="spacingAndGlyphs">Binance</text>
<text x="210.5" y="46" font-size="12" fill="#131722" stroke="#131722" stroke-width="0.25" textLength="8" lengthAdjust="spacingAndGlyphs">O</text>
<text x="218.5" y="46" font-size="12" fill="#26a69a" stroke="#26a69a" stroke-width="0.25" textLength="35" lengthAdjust="spacingAndGlyphs">0.2702</text>
<text x="262" y="46" font-size="12" fill="#131722" stroke="#131722" stroke-width="0.25" textLength="7.5" lengthAdjust="spacingAndGlyphs">H</text>
<text x="269.5" y="46" font-size="12" fill="#26a69a" stroke="#26a69a" stroke-width="0.25" textLength="35.5" lengthAdjust="spacingAndGlyphs">0.2936</text>
<text x="312.5" y="46" font-size="12" fill="#131722" stroke="#131722" stroke-width="0.25" textLength="6" lengthAdjust="spacingAndGlyphs">L</text>
<text x="319" y="46" font-size="12" fill="#26a69a" stroke="#26a69a" stroke-width="0.25" textLength="35" lengthAdjust="spacingAndGlyphs">0.2687</text>
<text x="361.5" y="46" font-size="12" fill="#131722" stroke="#131722" stroke-width="0.25" textLength="7" lengthAdjust="spacingAndGlyphs">C</text>
<text x="368.5" y="46" font-size="12" fill="#26a69a" stroke="#26a69a" stroke-width="0.25" textLength="35.5" lengthAdjust="spacingAndGlyphs">0.2874</text>
<text x="412" y="46" font-size="12" fill="#26a69a" stroke="#26a69a" stroke-width="0.25" textLength="90.5" lengthAdjust="spacingAndGlyphs">+0.0172 (+6.37%)</text>
<text x="18" y="63" font-size="12" fill="#131722" stroke="#131722" stroke-width="0.25" textLength="81.7" lengthAdjust="spacingAndGlyphs">EMA (20, close)</text>
<text x="107.5" y="63" font-size="12" fill="#2962ff" stroke="#2962ff" stroke-width="0.25" textLength="35.8" lengthAdjust="spacingAndGlyphs">0.2697</text>
<text x="18" y="80" font-size="12" fill="#131722" stroke="#131722" stroke-width="0.25" textLength="81" lengthAdjust="spacingAndGlyphs">SMA (50, close)</text>
<text x="107" y="80" font-size="12" fill="#f23645" stroke="#f23645" stroke-width="0.25" textLength="35.5" lengthAdjust="spacingAndGlyphs">0.2803</text>
<text x="18" y="646" font-size="12" fill="#131722" stroke="#131722" stroke-width="0.25" textLength="76" lengthAdjust="spacingAndGlyphs">RSI (14, close)</text>
<text x="102" y="646" font-size="12" fill="#7e57c2" stroke="#7e57c2" stroke-width="0.25" textLength="29" lengthAdjust="spacingAndGlyphs">57.20</text>
<text x="138.5" y="646" font-size="12" fill="#fbc02d" stroke="#fbc02d" stroke-width="0.25" textLength="29.5" lengthAdjust="spacingAndGlyphs">44.96</text>
<g transform="translate(12,873.9) scale(0.84,0.82)" fill="#0f0f0f"><path d="M14 22H7V11H0V4h14v18zM28 22h-8l7.5-18h8L28 22z"/><circle cx="20" cy="8" r="4"/></g>
<text x="49" y="891.6" font-size="20.5" fill="#0f0f0f" font-weight="bold" textLength="121" lengthAdjust="spacingAndGlyphs" stroke="#0f0f0f" stroke-width="0.3">TradingView</text>
</svg>
</body></html>
